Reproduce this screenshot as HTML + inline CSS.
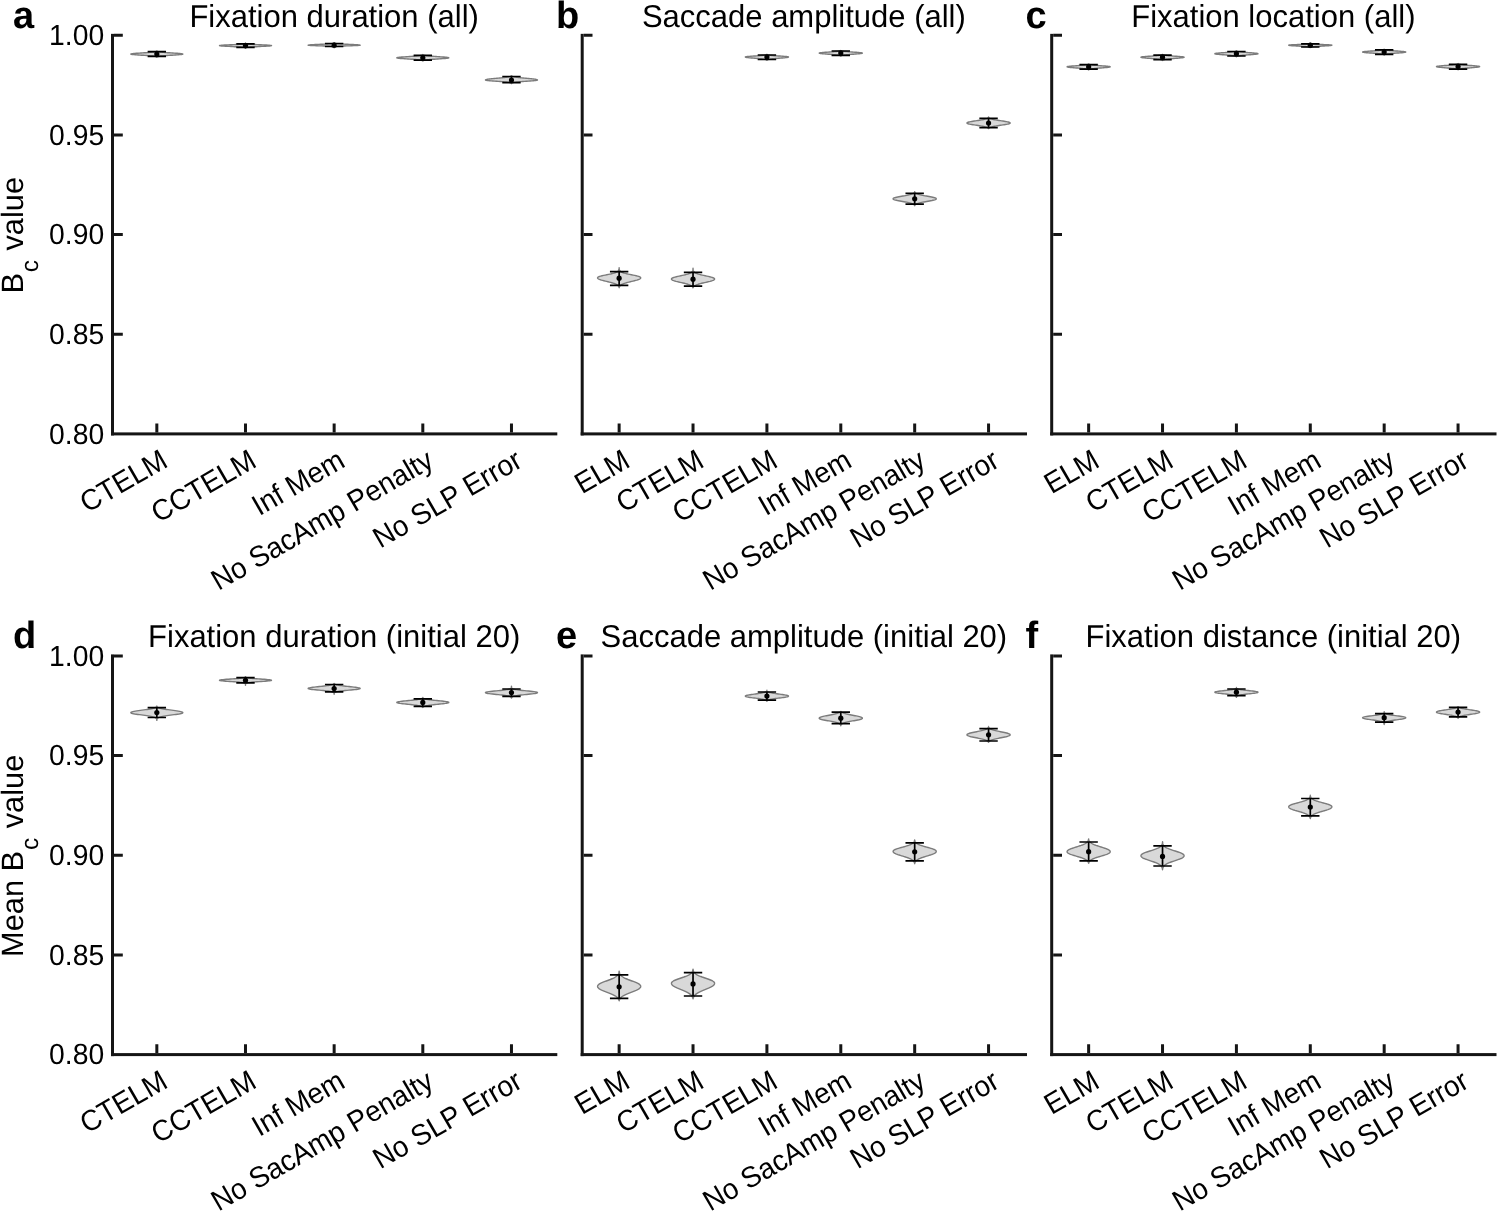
<!DOCTYPE html><html><head><meta charset="utf-8"><style>
html,body{margin:0;padding:0;background:#fff;overflow:hidden;}
svg{display:block;will-change:transform;text-rendering:geometricPrecision;} text{font-family:"Liberation Sans",sans-serif;fill:#000;}
</style></head><body>
<svg width="1497" height="1212" viewBox="0 0 1497 1212">
<rect width="1497" height="1212" fill="#fff"/>
<g><path d="M156.83,51.00 L156.93,51.10 L157.07,51.21 L157.24,51.31 L157.47,51.42 L157.76,51.52 L158.12,51.63 L158.57,51.73 L159.12,51.84 L159.77,51.95 L160.55,52.05 L161.45,52.16 L162.49,52.26 L163.65,52.37 L164.94,52.47 L166.35,52.58 L167.85,52.68 L169.43,52.78 L171.05,52.89 L172.69,52.99 L174.31,53.10 L175.88,53.20 L177.35,53.31 L178.70,53.41 L179.88,53.52 L180.88,53.62 L181.68,53.73 L182.26,53.84 L182.64,53.94 L182.81,54.05 L182.81,54.15 L182.64,54.25 L182.25,54.36 L181.62,54.46 L180.77,54.57 L179.70,54.67 L178.43,54.78 L176.99,54.88 L175.43,54.99 L173.77,55.09 L172.07,55.20 L170.37,55.30 L168.70,55.41 L167.09,55.52 L165.59,55.62 L164.20,55.72 L162.94,55.83 L161.82,55.93 L160.85,56.04 L160.01,56.14 L159.31,56.25 L158.73,56.35 L158.26,56.46 L157.88,56.56 L157.59,56.67 L157.36,56.77 L157.18,56.88 L157.05,56.98 L156.95,57.09 L156.88,57.19 L156.83,57.30 L156.83,57.30 L156.78,57.19 L156.71,57.09 L156.61,56.98 L156.48,56.88 L156.30,56.77 L156.07,56.67 L155.78,56.56 L155.40,56.46 L154.93,56.35 L154.35,56.25 L153.65,56.14 L152.81,56.04 L151.84,55.93 L150.72,55.83 L149.46,55.72 L148.07,55.62 L146.57,55.52 L144.96,55.41 L143.29,55.30 L141.59,55.20 L139.89,55.09 L138.23,54.99 L136.67,54.88 L135.23,54.78 L133.96,54.67 L132.89,54.57 L132.04,54.46 L131.41,54.36 L131.02,54.25 L130.85,54.15 L130.85,54.05 L131.02,53.94 L131.40,53.84 L131.98,53.73 L132.78,53.62 L133.78,53.52 L134.96,53.41 L136.31,53.31 L137.78,53.20 L139.35,53.10 L140.97,52.99 L142.61,52.89 L144.23,52.78 L145.81,52.68 L147.31,52.58 L148.72,52.47 L150.01,52.37 L151.17,52.26 L152.21,52.16 L153.11,52.05 L153.89,51.95 L154.54,51.84 L155.09,51.73 L155.54,51.63 L155.90,51.52 L156.19,51.42 L156.42,51.31 L156.59,51.21 L156.73,51.10 L156.83,51.00Z" fill="#d9d9d9" stroke="#7c7c7c" stroke-width="1.4" stroke-linejoin="round"/><path d="M156.83,51.70V56.40M147.63,51.70H166.03M147.63,56.40H166.03" stroke="#000" stroke-width="1.7" fill="none"/><circle cx="156.83" cy="54.10" r="2.6" fill="#000"/><path d="M245.49,42.90 L245.50,42.99 L245.52,43.08 L245.55,43.17 L245.59,43.26 L245.65,43.35 L245.75,43.44 L245.89,43.53 L246.08,43.62 L246.35,43.71 L246.71,43.80 L247.18,43.89 L247.79,43.98 L248.55,44.07 L249.49,44.16 L250.62,44.25 L251.93,44.34 L253.44,44.43 L255.12,44.52 L256.94,44.61 L258.86,44.70 L260.83,44.79 L262.79,44.88 L264.68,44.97 L266.43,45.06 L267.98,45.15 L269.28,45.24 L270.29,45.33 L270.99,45.42 L271.38,45.51 L271.49,45.60 L271.39,45.69 L271.05,45.78 L270.43,45.87 L269.53,45.96 L268.37,46.05 L266.97,46.14 L265.38,46.23 L263.64,46.32 L261.81,46.41 L259.94,46.50 L258.09,46.59 L256.31,46.68 L254.63,46.77 L253.08,46.86 L251.69,46.95 L250.47,47.04 L249.42,47.13 L248.54,47.22 L247.81,47.31 L247.22,47.40 L246.76,47.49 L246.40,47.58 L246.13,47.67 L245.93,47.76 L245.78,47.85 L245.67,47.94 L245.60,48.03 L245.55,48.12 L245.51,48.21 L245.49,48.30 L245.49,48.30 L245.47,48.21 L245.43,48.12 L245.38,48.03 L245.31,47.94 L245.20,47.85 L245.05,47.76 L244.85,47.67 L244.58,47.58 L244.22,47.49 L243.76,47.40 L243.17,47.31 L242.44,47.22 L241.56,47.13 L240.51,47.04 L239.29,46.95 L237.90,46.86 L236.35,46.77 L234.67,46.68 L232.89,46.59 L231.04,46.50 L229.17,46.41 L227.34,46.32 L225.60,46.23 L224.01,46.14 L222.61,46.05 L221.45,45.96 L220.55,45.87 L219.93,45.78 L219.59,45.69 L219.49,45.60 L219.60,45.51 L219.99,45.42 L220.69,45.33 L221.70,45.24 L223.00,45.15 L224.55,45.06 L226.30,44.97 L228.19,44.88 L230.15,44.79 L232.12,44.70 L234.04,44.61 L235.86,44.52 L237.54,44.43 L239.05,44.34 L240.36,44.25 L241.49,44.16 L242.43,44.07 L243.19,43.98 L243.80,43.89 L244.27,43.80 L244.63,43.71 L244.90,43.62 L245.09,43.53 L245.23,43.44 L245.33,43.35 L245.39,43.26 L245.43,43.17 L245.46,43.08 L245.48,42.99 L245.49,42.90Z" fill="#d9d9d9" stroke="#7c7c7c" stroke-width="1.4" stroke-linejoin="round"/><path d="M245.49,43.90V47.40M236.29,43.90H254.69M236.29,47.40H254.69" stroke="#000" stroke-width="1.7" fill="none"/><circle cx="245.49" cy="45.60" r="2.6" fill="#000"/><path d="M334.15,42.60 L334.17,42.69 L334.19,42.77 L334.24,42.86 L334.29,42.94 L334.38,43.02 L334.50,43.11 L334.67,43.20 L334.90,43.28 L335.20,43.37 L335.60,43.45 L336.12,43.54 L336.76,43.62 L337.55,43.70 L338.50,43.79 L339.62,43.88 L340.91,43.96 L342.36,44.05 L343.97,44.13 L345.70,44.22 L347.51,44.30 L349.38,44.39 L351.23,44.47 L353.03,44.55 L354.72,44.64 L356.23,44.73 L357.54,44.81 L358.59,44.90 L359.38,44.98 L359.88,45.07 L360.12,45.15 L360.12,45.23 L359.78,45.32 L358.97,45.41 L357.69,45.49 L355.98,45.58 L353.92,45.66 L351.61,45.75 L349.19,45.83 L346.77,45.91 L344.45,46.00 L342.33,46.09 L340.47,46.17 L338.89,46.26 L337.61,46.34 L336.60,46.43 L335.83,46.51 L335.27,46.60 L334.87,46.68 L334.60,46.77 L334.42,46.85 L334.31,46.94 L334.24,47.02 L334.20,47.11 L334.18,47.19 L334.16,47.28 L334.16,47.36 L334.15,47.45 L334.15,47.53 L334.15,47.62 L334.15,47.70 L334.15,47.70 L334.15,47.62 L334.15,47.53 L334.15,47.45 L334.14,47.36 L334.14,47.28 L334.12,47.19 L334.10,47.11 L334.06,47.02 L333.99,46.94 L333.88,46.85 L333.70,46.77 L333.43,46.68 L333.03,46.60 L332.47,46.51 L331.70,46.43 L330.69,46.34 L329.41,46.26 L327.83,46.17 L325.97,46.09 L323.85,46.00 L321.53,45.91 L319.11,45.83 L316.69,45.75 L314.38,45.66 L312.32,45.58 L310.61,45.49 L309.33,45.41 L308.52,45.32 L308.18,45.23 L308.18,45.15 L308.42,45.07 L308.92,44.98 L309.71,44.90 L310.76,44.81 L312.07,44.73 L313.58,44.64 L315.27,44.55 L317.07,44.47 L318.92,44.39 L320.79,44.30 L322.60,44.22 L324.33,44.13 L325.94,44.05 L327.39,43.96 L328.68,43.88 L329.80,43.79 L330.75,43.70 L331.54,43.62 L332.18,43.54 L332.70,43.45 L333.10,43.37 L333.40,43.28 L333.63,43.20 L333.80,43.11 L333.92,43.02 L334.01,42.94 L334.06,42.86 L334.11,42.77 L334.13,42.69 L334.15,42.60Z" fill="#d9d9d9" stroke="#7c7c7c" stroke-width="1.4" stroke-linejoin="round"/><path d="M334.15,43.50V46.50M324.95,43.50H343.35M324.95,46.50H343.35" stroke="#000" stroke-width="1.7" fill="none"/><circle cx="334.15" cy="45.20" r="2.6" fill="#000"/><path d="M422.81,54.60 L422.89,54.71 L422.99,54.81 L423.13,54.92 L423.31,55.03 L423.55,55.13 L423.85,55.24 L424.22,55.35 L424.69,55.45 L425.27,55.56 L425.95,55.67 L426.77,55.77 L427.71,55.88 L428.79,55.99 L430.01,56.09 L431.35,56.20 L432.80,56.31 L434.35,56.41 L435.97,56.52 L437.63,56.63 L439.29,56.73 L440.92,56.84 L442.48,56.95 L443.92,57.05 L445.22,57.16 L446.34,57.27 L447.27,57.37 L447.97,57.48 L448.46,57.59 L448.73,57.69 L448.81,57.80 L448.73,57.91 L448.46,58.01 L447.97,58.12 L447.27,58.23 L446.34,58.33 L445.22,58.44 L443.92,58.55 L442.48,58.65 L440.92,58.76 L439.29,58.87 L437.63,58.97 L435.97,59.08 L434.35,59.19 L432.80,59.29 L431.35,59.40 L430.01,59.51 L428.79,59.61 L427.71,59.72 L426.77,59.83 L425.95,59.93 L425.27,60.04 L424.69,60.15 L424.22,60.25 L423.85,60.36 L423.55,60.47 L423.31,60.57 L423.13,60.68 L422.99,60.79 L422.89,60.89 L422.81,61.00 L422.81,61.00 L422.73,60.89 L422.63,60.79 L422.49,60.68 L422.31,60.57 L422.07,60.47 L421.77,60.36 L421.40,60.25 L420.93,60.15 L420.35,60.04 L419.67,59.93 L418.85,59.83 L417.91,59.72 L416.83,59.61 L415.61,59.51 L414.27,59.40 L412.82,59.29 L411.27,59.19 L409.65,59.08 L407.99,58.97 L406.33,58.87 L404.70,58.76 L403.14,58.65 L401.70,58.55 L400.40,58.44 L399.28,58.33 L398.35,58.23 L397.65,58.12 L397.16,58.01 L396.89,57.91 L396.81,57.80 L396.89,57.69 L397.16,57.59 L397.65,57.48 L398.35,57.37 L399.28,57.27 L400.40,57.16 L401.70,57.05 L403.14,56.95 L404.70,56.84 L406.33,56.73 L407.99,56.63 L409.65,56.52 L411.27,56.41 L412.82,56.31 L414.27,56.20 L415.61,56.09 L416.83,55.99 L417.91,55.88 L418.85,55.77 L419.67,55.67 L420.35,55.56 L420.93,55.45 L421.40,55.35 L421.77,55.24 L422.07,55.13 L422.31,55.03 L422.49,54.92 L422.63,54.81 L422.73,54.71 L422.81,54.60Z" fill="#d9d9d9" stroke="#7c7c7c" stroke-width="1.4" stroke-linejoin="round"/><path d="M422.81,55.40V60.20M413.61,55.40H432.01M413.61,60.20H432.01" stroke="#000" stroke-width="1.7" fill="none"/><circle cx="422.81" cy="57.80" r="2.6" fill="#000"/><path d="M511.47,75.80 L511.63,75.93 L511.82,76.06 L512.06,76.19 L512.35,76.32 L512.69,76.45 L513.10,76.58 L513.58,76.71 L514.14,76.84 L514.79,76.97 L515.53,77.10 L516.36,77.23 L517.29,77.36 L518.30,77.49 L519.41,77.62 L520.60,77.75 L521.87,77.88 L523.19,78.01 L524.56,78.14 L525.96,78.27 L527.36,78.40 L528.74,78.53 L530.09,78.66 L531.38,78.79 L532.58,78.92 L533.68,79.05 L534.65,79.18 L535.50,79.31 L536.19,79.44 L536.73,79.57 L537.12,79.70 L537.36,79.83 L537.46,79.96 L537.42,80.09 L537.16,80.22 L536.62,80.35 L535.81,80.48 L534.72,80.61 L533.39,80.74 L531.85,80.87 L530.15,81.00 L528.34,81.13 L526.47,81.26 L524.61,81.39 L522.80,81.52 L521.08,81.65 L519.48,81.78 L518.04,81.91 L516.77,82.04 L515.66,82.17 L514.73,82.30 L513.95,82.43 L513.32,82.56 L512.82,82.69 L512.43,82.82 L512.13,82.95 L511.90,83.08 L511.74,83.21 L511.62,83.34 L511.53,83.47 L511.47,83.60 L511.47,83.60 L511.41,83.47 L511.32,83.34 L511.20,83.21 L511.04,83.08 L510.81,82.95 L510.51,82.82 L510.12,82.69 L509.62,82.56 L508.99,82.43 L508.21,82.30 L507.28,82.17 L506.17,82.04 L504.90,81.91 L503.46,81.78 L501.86,81.65 L500.14,81.52 L498.33,81.39 L496.47,81.26 L494.60,81.13 L492.79,81.00 L491.09,80.87 L489.55,80.74 L488.22,80.61 L487.13,80.48 L486.32,80.35 L485.78,80.22 L485.52,80.09 L485.48,79.96 L485.58,79.83 L485.82,79.70 L486.21,79.57 L486.75,79.44 L487.44,79.31 L488.29,79.18 L489.26,79.05 L490.36,78.92 L491.56,78.79 L492.85,78.66 L494.20,78.53 L495.58,78.40 L496.98,78.27 L498.38,78.14 L499.75,78.01 L501.07,77.88 L502.34,77.75 L503.53,77.62 L504.64,77.49 L505.65,77.36 L506.58,77.23 L507.41,77.10 L508.15,76.97 L508.80,76.84 L509.36,76.71 L509.84,76.58 L510.25,76.45 L510.59,76.32 L510.88,76.19 L511.12,76.06 L511.31,75.93 L511.47,75.80Z" fill="#d9d9d9" stroke="#7c7c7c" stroke-width="1.4" stroke-linejoin="round"/><path d="M511.47,76.50V82.60M502.27,76.50H520.67M502.27,82.60H520.67" stroke="#000" stroke-width="1.7" fill="none"/><circle cx="511.47" cy="80.00" r="2.6" fill="#000"/><path d="M114.00,35.35H122.80M114.00,134.99H122.80M114.00,234.62H122.80M114.00,334.26H122.80M156.83,432.40V423.50M245.49,432.40V423.50M334.15,432.40V423.50M422.81,432.40V423.50M511.47,432.40V423.50" stroke="#151515" stroke-width="3" fill="none"/><rect x="111.00" y="33.85" width="3" height="401.55" fill="#151515"/><rect x="111.00" y="432.40" width="446.30" height="3" fill="#151515"/><text transform="translate(104.20,45.15) scale(1,1.03)" font-size="28.3" text-anchor="end">1.00</text><text transform="translate(104.20,144.79) scale(1,1.03)" font-size="28.3" text-anchor="end">0.95</text><text transform="translate(104.20,244.42) scale(1,1.03)" font-size="28.3" text-anchor="end">0.90</text><text transform="translate(104.20,344.06) scale(1,1.03)" font-size="28.3" text-anchor="end">0.85</text><text transform="translate(104.20,443.70) scale(1,1.03)" font-size="28.3" text-anchor="end">0.80</text><text x="0" y="0" font-size="28.0" text-anchor="end" transform="translate(169.43,465.80) rotate(-30) scale(1,1.045)">CTELM</text><text x="0" y="0" font-size="28.0" text-anchor="end" transform="translate(258.09,465.80) rotate(-30) scale(1,1.045)">CCTELM</text><text x="0" y="0" font-size="28.0" text-anchor="end" transform="translate(346.75,465.80) rotate(-30) scale(1,1.045)">Inf Mem</text><text x="0" y="0" font-size="28.0" text-anchor="end" transform="translate(435.41,465.80) rotate(-30) scale(1,1.045)">No SacAmp Penalty</text><text x="0" y="0" font-size="28.0" text-anchor="end" transform="translate(524.07,465.80) rotate(-30) scale(1,1.045)">No SLP Error</text><text transform="translate(334.15,26.70) scale(1,1.02)" font-size="31.0" text-anchor="middle">Fixation duration (all)</text><text x="13.00" y="27.65" font-size="38.0" font-weight="bold">a</text></g>
<g><path d="M619.14,267.80 L619.15,268.13 L619.16,268.46 L619.18,268.80 L619.21,269.13 L619.26,269.46 L619.32,269.79 L619.42,270.12 L619.57,270.45 L619.76,270.79 L620.03,271.12 L620.39,271.45 L620.86,271.78 L621.46,272.11 L622.20,272.44 L623.09,272.77 L624.15,273.11 L625.36,273.44 L626.73,273.77 L628.22,274.10 L629.82,274.43 L631.46,274.76 L633.11,275.10 L634.72,275.43 L636.21,275.76 L637.55,276.09 L638.69,276.42 L639.58,276.75 L640.21,277.09 L640.58,277.42 L640.71,277.75 L640.66,278.08 L640.46,278.41 L640.09,278.75 L639.54,279.08 L638.81,279.41 L637.91,279.74 L636.86,280.07 L635.69,280.40 L634.42,280.74 L633.08,281.07 L631.71,281.40 L630.34,281.73 L628.99,282.06 L627.70,282.39 L626.48,282.73 L625.35,283.06 L624.32,283.39 L623.40,283.72 L622.59,284.05 L621.90,284.38 L621.30,284.71 L620.81,285.05 L620.40,285.38 L620.06,285.71 L619.80,286.04 L619.59,286.37 L619.43,286.70 L619.31,287.04 L619.21,287.37 L619.14,287.70 L619.14,287.70 L619.07,287.37 L618.98,287.04 L618.85,286.70 L618.69,286.37 L618.48,286.04 L618.22,285.71 L617.89,285.38 L617.48,285.05 L616.98,284.71 L616.39,284.38 L615.69,284.05 L614.88,283.72 L613.96,283.39 L612.93,283.06 L611.80,282.73 L610.58,282.39 L609.29,282.06 L607.94,281.73 L606.57,281.40 L605.20,281.07 L603.87,280.74 L602.60,280.40 L601.42,280.07 L600.38,279.74 L599.48,279.41 L598.75,279.08 L598.19,278.75 L597.82,278.41 L597.62,278.08 L597.58,277.75 L597.70,277.42 L598.07,277.09 L598.70,276.75 L599.60,276.42 L600.73,276.09 L602.07,275.76 L603.57,275.43 L605.17,275.10 L606.82,274.76 L608.47,274.43 L610.06,274.10 L611.55,273.77 L612.92,273.44 L614.14,273.11 L615.19,272.77 L616.09,272.44 L616.83,272.11 L617.42,271.78 L617.89,271.45 L618.25,271.12 L618.52,270.79 L618.72,270.45 L618.86,270.12 L618.96,269.79 L619.03,269.46 L619.07,269.13 L619.10,268.80 L619.12,268.46 L619.13,268.13 L619.14,267.80Z" fill="#d9d9d9" stroke="#7c7c7c" stroke-width="1.4" stroke-linejoin="round"/><path d="M619.14,271.60V285.30M609.94,271.60H628.34M609.94,285.30H628.34" stroke="#000" stroke-width="1.7" fill="none"/><circle cx="619.14" cy="278.20" r="2.6" fill="#000"/><path d="M693.03,268.20 L693.03,268.53 L693.04,268.86 L693.05,269.19 L693.07,269.51 L693.10,269.84 L693.15,270.17 L693.21,270.50 L693.31,270.83 L693.44,271.15 L693.62,271.48 L693.86,271.81 L694.17,272.14 L694.57,272.47 L695.08,272.80 L695.70,273.12 L696.45,273.45 L697.35,273.78 L698.38,274.11 L699.55,274.44 L700.85,274.77 L702.25,275.09 L703.73,275.42 L705.26,275.75 L706.80,276.08 L708.30,276.41 L709.72,276.74 L711.02,277.06 L712.14,277.39 L713.08,277.72 L713.79,278.05 L714.27,278.38 L714.53,278.71 L714.59,279.03 L714.50,279.36 L714.23,279.69 L713.76,280.02 L713.10,280.35 L712.25,280.68 L711.22,281.00 L710.04,281.33 L708.75,281.66 L707.37,281.99 L705.94,282.32 L704.50,282.65 L703.08,282.97 L701.71,283.30 L700.42,283.63 L699.23,283.96 L698.14,284.29 L697.18,284.62 L696.34,284.94 L695.62,285.27 L695.01,285.60 L694.50,285.93 L694.09,286.26 L693.76,286.59 L693.50,286.91 L693.30,287.24 L693.14,287.57 L693.03,287.90 L693.03,287.90 L692.91,287.57 L692.75,287.24 L692.55,286.91 L692.29,286.59 L691.96,286.26 L691.55,285.93 L691.04,285.60 L690.43,285.27 L689.71,284.94 L688.87,284.62 L687.91,284.29 L686.82,283.96 L685.63,283.63 L684.34,283.30 L682.97,282.97 L681.55,282.65 L680.11,282.32 L678.68,281.99 L677.30,281.66 L676.01,281.33 L674.83,281.00 L673.80,280.68 L672.95,280.35 L672.29,280.02 L671.82,279.69 L671.55,279.36 L671.46,279.03 L671.52,278.71 L671.78,278.38 L672.26,278.05 L672.97,277.72 L673.91,277.39 L675.03,277.06 L676.33,276.74 L677.75,276.41 L679.25,276.08 L680.79,275.75 L682.32,275.42 L683.80,275.09 L685.20,274.77 L686.50,274.44 L687.67,274.11 L688.70,273.78 L689.60,273.45 L690.35,273.12 L690.97,272.80 L691.48,272.47 L691.88,272.14 L692.19,271.81 L692.43,271.48 L692.61,271.15 L692.74,270.83 L692.84,270.50 L692.90,270.17 L692.95,269.84 L692.98,269.51 L693.00,269.19 L693.01,268.86 L693.02,268.53 L693.03,268.20Z" fill="#d9d9d9" stroke="#7c7c7c" stroke-width="1.4" stroke-linejoin="round"/><path d="M693.03,272.40V286.10M683.83,272.40H702.23M683.83,286.10H702.23" stroke="#000" stroke-width="1.7" fill="none"/><circle cx="693.03" cy="279.20" r="2.6" fill="#000"/><path d="M766.91,54.30 L766.97,54.40 L767.06,54.50 L767.18,54.59 L767.35,54.69 L767.57,54.79 L767.86,54.89 L768.23,54.99 L768.70,55.09 L769.28,55.18 L769.98,55.28 L770.82,55.38 L771.79,55.48 L772.90,55.58 L774.13,55.68 L775.48,55.77 L776.92,55.87 L778.43,55.97 L779.95,56.07 L781.46,56.17 L782.91,56.27 L784.26,56.37 L785.46,56.46 L786.49,56.56 L787.31,56.66 L787.91,56.76 L788.29,56.86 L788.46,56.95 L788.46,57.05 L788.34,57.15 L788.09,57.25 L787.70,57.35 L787.17,57.45 L786.50,57.55 L785.69,57.64 L784.77,57.74 L783.74,57.84 L782.63,57.94 L781.46,58.04 L780.26,58.13 L779.03,58.23 L777.81,58.33 L776.62,58.43 L775.47,58.53 L774.38,58.63 L773.35,58.73 L772.41,58.82 L771.55,58.92 L770.77,59.02 L770.09,59.12 L769.49,59.22 L768.98,59.32 L768.53,59.41 L768.16,59.51 L767.85,59.61 L767.60,59.71 L767.39,59.81 L767.23,59.91 L767.09,60.00 L766.99,60.10 L766.91,60.20 L766.91,60.20 L766.83,60.10 L766.72,60.00 L766.59,59.91 L766.42,59.81 L766.22,59.71 L765.96,59.61 L765.65,59.51 L765.28,59.41 L764.84,59.32 L764.32,59.22 L763.73,59.12 L763.04,59.02 L762.27,58.92 L761.41,58.82 L760.47,58.73 L759.44,58.63 L758.35,58.53 L757.20,58.43 L756.00,58.33 L754.78,58.23 L753.56,58.13 L752.35,58.04 L751.18,57.94 L750.08,57.84 L749.05,57.74 L748.13,57.64 L747.32,57.55 L746.65,57.45 L746.11,57.35 L745.72,57.25 L745.47,57.15 L745.36,57.05 L745.36,56.95 L745.52,56.86 L745.90,56.76 L746.50,56.66 L747.33,56.56 L748.35,56.46 L749.56,56.37 L750.91,56.27 L752.36,56.17 L753.87,56.07 L755.39,55.97 L756.89,55.87 L758.33,55.77 L759.68,55.68 L760.92,55.58 L762.03,55.48 L763.00,55.38 L763.84,55.28 L764.54,55.18 L765.12,55.09 L765.59,54.99 L765.96,54.89 L766.25,54.79 L766.47,54.69 L766.63,54.59 L766.76,54.50 L766.84,54.40 L766.91,54.30Z" fill="#d9d9d9" stroke="#7c7c7c" stroke-width="1.4" stroke-linejoin="round"/><path d="M766.91,55.00V59.50M757.71,55.00H776.11M757.71,59.50H776.11" stroke="#000" stroke-width="1.7" fill="none"/><circle cx="766.91" cy="57.00" r="2.6" fill="#000"/><path d="M840.79,50.40 L840.88,50.49 L841.01,50.59 L841.17,50.69 L841.37,50.78 L841.64,50.88 L841.97,50.97 L842.39,51.06 L842.89,51.16 L843.50,51.25 L844.21,51.35 L845.04,51.45 L845.99,51.54 L847.05,51.63 L848.22,51.73 L849.48,51.83 L850.81,51.92 L852.20,52.02 L853.60,52.11 L855.00,52.20 L856.36,52.30 L857.63,52.39 L858.80,52.49 L859.84,52.59 L860.71,52.68 L861.40,52.77 L861.90,52.87 L862.21,52.97 L862.34,53.06 L862.34,53.16 L862.21,53.25 L861.93,53.34 L861.49,53.44 L860.89,53.53 L860.14,53.63 L859.26,53.73 L858.24,53.82 L857.13,53.91 L855.93,54.01 L854.68,54.11 L853.40,54.20 L852.12,54.30 L850.86,54.39 L849.63,54.48 L848.47,54.58 L847.39,54.67 L846.39,54.77 L845.48,54.87 L844.67,54.96 L843.96,55.05 L843.34,55.15 L842.81,55.25 L842.36,55.34 L841.99,55.44 L841.68,55.53 L841.44,55.62 L841.24,55.72 L841.08,55.81 L840.96,55.91 L840.86,56.01 L840.79,56.10 L840.79,56.10 L840.72,56.01 L840.62,55.91 L840.50,55.81 L840.35,55.72 L840.15,55.62 L839.90,55.53 L839.59,55.44 L839.22,55.34 L838.77,55.25 L838.24,55.15 L837.63,55.05 L836.91,54.96 L836.10,54.87 L835.20,54.77 L834.20,54.67 L833.11,54.58 L831.95,54.48 L830.73,54.39 L829.46,54.30 L828.18,54.20 L826.90,54.11 L825.65,54.01 L824.46,53.91 L823.34,53.82 L822.33,53.73 L821.44,53.63 L820.69,53.53 L820.10,53.44 L819.66,53.34 L819.38,53.25 L819.25,53.16 L819.24,53.06 L819.37,52.97 L819.69,52.87 L820.19,52.77 L820.88,52.68 L821.75,52.59 L822.78,52.49 L823.95,52.39 L825.23,52.30 L826.58,52.20 L827.98,52.11 L829.39,52.02 L830.77,51.92 L832.11,51.83 L833.37,51.73 L834.53,51.63 L835.59,51.54 L836.54,51.45 L837.37,51.35 L838.08,51.25 L838.69,51.16 L839.20,51.06 L839.61,50.97 L839.94,50.88 L840.21,50.78 L840.42,50.69 L840.58,50.59 L840.70,50.49 L840.79,50.40Z" fill="#d9d9d9" stroke="#7c7c7c" stroke-width="1.4" stroke-linejoin="round"/><path d="M840.79,51.00V55.40M831.59,51.00H849.99M831.59,55.40H849.99" stroke="#000" stroke-width="1.7" fill="none"/><circle cx="840.79" cy="53.10" r="2.6" fill="#000"/><path d="M914.68,191.60 L914.74,191.84 L914.82,192.07 L914.93,192.31 L915.08,192.54 L915.26,192.78 L915.50,193.01 L915.80,193.25 L916.17,193.48 L916.62,193.72 L917.16,193.95 L917.79,194.19 L918.53,194.42 L919.38,194.66 L920.34,194.89 L921.40,195.12 L922.55,195.36 L923.79,195.59 L925.08,195.83 L926.42,196.06 L927.77,196.30 L929.11,196.53 L930.41,196.77 L931.63,197.00 L932.74,197.24 L933.73,197.47 L934.57,197.71 L935.24,197.94 L935.74,198.18 L936.06,198.41 L936.22,198.65 L936.23,198.88 L936.11,199.12 L935.84,199.35 L935.39,199.59 L934.76,199.82 L933.96,200.06 L933.01,200.29 L931.92,200.53 L930.73,200.76 L929.45,201.00 L928.12,201.23 L926.76,201.47 L925.42,201.70 L924.10,201.94 L922.85,202.17 L921.67,202.41 L920.58,202.64 L919.59,202.88 L918.71,203.11 L917.93,203.35 L917.26,203.58 L916.70,203.82 L916.22,204.05 L915.83,204.29 L915.51,204.52 L915.25,204.76 L915.05,204.99 L914.89,205.23 L914.77,205.46 L914.68,205.70 L914.68,205.70 L914.58,205.46 L914.46,205.23 L914.30,204.99 L914.10,204.76 L913.84,204.52 L913.52,204.29 L913.13,204.05 L912.65,203.82 L912.09,203.58 L911.42,203.35 L910.64,203.11 L909.76,202.88 L908.77,202.64 L907.68,202.41 L906.50,202.17 L905.25,201.94 L903.93,201.70 L902.59,201.47 L901.23,201.23 L899.90,201.00 L898.62,200.76 L897.43,200.53 L896.34,200.29 L895.39,200.06 L894.59,199.82 L893.96,199.59 L893.51,199.35 L893.24,199.12 L893.12,198.88 L893.13,198.65 L893.29,198.41 L893.61,198.18 L894.11,197.94 L894.78,197.71 L895.62,197.47 L896.61,197.24 L897.72,197.00 L898.94,196.77 L900.24,196.53 L901.58,196.30 L902.93,196.06 L904.27,195.83 L905.56,195.59 L906.80,195.36 L907.95,195.12 L909.01,194.89 L909.97,194.66 L910.82,194.42 L911.56,194.19 L912.19,193.95 L912.73,193.72 L913.18,193.48 L913.55,193.25 L913.85,193.01 L914.09,192.78 L914.27,192.54 L914.42,192.31 L914.53,192.07 L914.61,191.84 L914.68,191.60Z" fill="#d9d9d9" stroke="#7c7c7c" stroke-width="1.4" stroke-linejoin="round"/><path d="M914.68,193.40V204.20M905.48,193.40H923.88M905.48,204.20H923.88" stroke="#000" stroke-width="1.7" fill="none"/><circle cx="914.68" cy="198.80" r="2.6" fill="#000"/><path d="M988.56,117.00 L988.63,117.19 L988.73,117.39 L988.86,117.58 L989.02,117.77 L989.22,117.97 L989.48,118.16 L989.80,118.35 L990.19,118.55 L990.65,118.74 L991.21,118.93 L991.85,119.13 L992.60,119.32 L993.45,119.51 L994.39,119.71 L995.43,119.90 L996.56,120.09 L997.76,120.29 L999.02,120.48 L1000.31,120.67 L1001.62,120.87 L1002.91,121.06 L1004.17,121.25 L1005.36,121.45 L1006.45,121.64 L1007.43,121.83 L1008.27,122.03 L1008.96,122.22 L1009.49,122.41 L1009.85,122.61 L1010.06,122.80 L1010.12,122.99 L1010.06,123.19 L1009.86,123.38 L1009.50,123.57 L1008.98,123.77 L1008.29,123.96 L1007.45,124.15 L1006.48,124.35 L1005.39,124.54 L1004.20,124.73 L1002.94,124.93 L1001.64,125.12 L1000.33,125.31 L999.03,125.51 L997.76,125.70 L996.55,125.89 L995.41,126.09 L994.36,126.28 L993.40,126.47 L992.54,126.67 L991.78,126.86 L991.12,127.05 L990.55,127.25 L990.07,127.44 L989.67,127.63 L989.35,127.83 L989.08,128.02 L988.86,128.21 L988.69,128.41 L988.56,128.60 L988.56,128.60 L988.42,128.41 L988.25,128.21 L988.04,128.02 L987.77,127.83 L987.44,127.63 L987.04,127.44 L986.56,127.25 L986.00,127.05 L985.34,126.86 L984.58,126.67 L983.72,126.47 L982.76,126.28 L981.71,126.09 L980.57,125.89 L979.36,125.70 L978.09,125.51 L976.79,125.31 L975.48,125.12 L974.18,124.93 L972.92,124.73 L971.73,124.54 L970.64,124.35 L969.66,124.15 L968.82,123.96 L968.14,123.77 L967.61,123.57 L967.26,123.38 L967.05,123.19 L966.99,122.99 L967.06,122.80 L967.26,122.61 L967.63,122.41 L968.16,122.22 L968.85,122.03 L969.69,121.83 L970.67,121.64 L971.76,121.45 L972.95,121.25 L974.20,121.06 L975.50,120.87 L976.81,120.67 L978.10,120.48 L979.36,120.29 L980.56,120.09 L981.68,119.90 L982.72,119.71 L983.67,119.51 L984.52,119.32 L985.26,119.13 L985.91,118.93 L986.46,118.74 L986.93,118.55 L987.32,118.35 L987.64,118.16 L987.89,117.97 L988.10,117.77 L988.26,117.58 L988.39,117.39 L988.48,117.19 L988.56,117.00Z" fill="#d9d9d9" stroke="#7c7c7c" stroke-width="1.4" stroke-linejoin="round"/><path d="M988.56,118.40V127.60M979.36,118.40H997.76M979.36,127.60H997.76" stroke="#000" stroke-width="1.7" fill="none"/><circle cx="988.56" cy="123.00" r="2.6" fill="#000"/><path d="M583.70,35.35H592.50M583.70,134.99H592.50M583.70,234.62H592.50M583.70,334.26H592.50M619.14,432.40V423.50M693.03,432.40V423.50M766.91,432.40V423.50M840.79,432.40V423.50M914.68,432.40V423.50M988.56,432.40V423.50" stroke="#151515" stroke-width="3" fill="none"/><rect x="580.70" y="33.85" width="3" height="401.55" fill="#151515"/><rect x="580.70" y="432.40" width="446.30" height="3" fill="#151515"/><text x="0" y="0" font-size="28.0" text-anchor="end" transform="translate(631.74,465.80) rotate(-30) scale(1,1.045)">ELM</text><text x="0" y="0" font-size="28.0" text-anchor="end" transform="translate(705.63,465.80) rotate(-30) scale(1,1.045)">CTELM</text><text x="0" y="0" font-size="28.0" text-anchor="end" transform="translate(779.51,465.80) rotate(-30) scale(1,1.045)">CCTELM</text><text x="0" y="0" font-size="28.0" text-anchor="end" transform="translate(853.39,465.80) rotate(-30) scale(1,1.045)">Inf Mem</text><text x="0" y="0" font-size="28.0" text-anchor="end" transform="translate(927.28,465.80) rotate(-30) scale(1,1.045)">No SacAmp Penalty</text><text x="0" y="0" font-size="28.0" text-anchor="end" transform="translate(1001.16,465.80) rotate(-30) scale(1,1.045)">No SLP Error</text><text transform="translate(803.85,26.70) scale(1,1.02)" font-size="31.0" text-anchor="middle">Saccade amplitude (all)</text><text x="556.00" y="27.65" font-size="38.0" font-weight="bold">b</text></g>
<g><path d="M1088.64,63.90 L1088.72,64.00 L1088.82,64.10 L1088.95,64.20 L1089.13,64.31 L1089.36,64.41 L1089.66,64.51 L1090.03,64.61 L1090.49,64.71 L1091.05,64.81 L1091.72,64.92 L1092.51,65.02 L1093.42,65.12 L1094.45,65.22 L1095.60,65.32 L1096.84,65.42 L1098.18,65.53 L1099.58,65.63 L1101.01,65.73 L1102.44,65.83 L1103.84,65.93 L1105.17,66.03 L1106.39,66.14 L1107.48,66.24 L1108.40,66.34 L1109.14,66.44 L1109.68,66.54 L1110.03,66.64 L1110.19,66.75 L1110.19,66.85 L1110.07,66.95 L1109.79,67.05 L1109.35,67.15 L1108.74,67.25 L1107.97,67.36 L1107.06,67.46 L1106.01,67.56 L1104.86,67.66 L1103.62,67.76 L1102.34,67.86 L1101.02,67.97 L1099.71,68.07 L1098.42,68.17 L1097.19,68.27 L1096.02,68.37 L1094.93,68.47 L1093.94,68.58 L1093.04,68.68 L1092.25,68.78 L1091.56,68.88 L1090.97,68.98 L1090.47,69.08 L1090.05,69.19 L1089.70,69.29 L1089.42,69.39 L1089.20,69.49 L1089.03,69.59 L1088.89,69.69 L1088.78,69.80 L1088.70,69.90 L1088.64,70.00 L1088.64,70.00 L1088.58,69.90 L1088.50,69.80 L1088.40,69.69 L1088.26,69.59 L1088.08,69.49 L1087.86,69.39 L1087.58,69.29 L1087.24,69.19 L1086.82,69.08 L1086.31,68.98 L1085.72,68.88 L1085.03,68.78 L1084.24,68.68 L1083.35,68.58 L1082.35,68.47 L1081.27,68.37 L1080.10,68.27 L1078.86,68.17 L1077.57,68.07 L1076.26,67.97 L1074.95,67.86 L1073.66,67.76 L1072.43,67.66 L1071.27,67.56 L1070.23,67.46 L1069.31,67.36 L1068.54,67.25 L1067.93,67.15 L1067.49,67.05 L1067.21,66.95 L1067.09,66.85 L1067.10,66.75 L1067.25,66.64 L1067.60,66.54 L1068.14,66.44 L1068.88,66.34 L1069.80,66.24 L1070.89,66.14 L1072.12,66.03 L1073.44,65.93 L1074.84,65.83 L1076.28,65.73 L1077.71,65.63 L1079.10,65.53 L1080.44,65.42 L1081.69,65.32 L1082.83,65.22 L1083.86,65.12 L1084.77,65.02 L1085.56,64.92 L1086.23,64.81 L1086.79,64.71 L1087.25,64.61 L1087.62,64.51 L1087.92,64.41 L1088.15,64.31 L1088.33,64.20 L1088.47,64.10 L1088.57,64.00 L1088.64,63.90Z" fill="#d9d9d9" stroke="#7c7c7c" stroke-width="1.4" stroke-linejoin="round"/><path d="M1088.64,64.60V69.20M1079.44,64.60H1097.84M1079.44,69.20H1097.84" stroke="#000" stroke-width="1.7" fill="none"/><circle cx="1088.64" cy="66.80" r="2.6" fill="#000"/><path d="M1162.53,54.40 L1162.59,54.50 L1162.69,54.60 L1162.82,54.70 L1162.99,54.80 L1163.22,54.90 L1163.51,55.00 L1163.88,55.10 L1164.35,55.20 L1164.92,55.30 L1165.60,55.40 L1166.41,55.50 L1167.35,55.60 L1168.42,55.70 L1169.61,55.80 L1170.90,55.90 L1172.29,56.00 L1173.74,56.10 L1175.21,56.20 L1176.68,56.30 L1178.11,56.40 L1179.45,56.50 L1180.67,56.60 L1181.73,56.70 L1182.61,56.80 L1183.29,56.90 L1183.75,57.00 L1184.01,57.10 L1184.09,57.20 L1184.03,57.30 L1183.85,57.40 L1183.53,57.50 L1183.06,57.60 L1182.44,57.70 L1181.68,57.80 L1180.79,57.90 L1179.79,58.00 L1178.69,58.10 L1177.52,58.20 L1176.31,58.30 L1175.07,58.40 L1173.82,58.50 L1172.60,58.60 L1171.41,58.70 L1170.28,58.80 L1169.22,58.90 L1168.24,59.00 L1167.35,59.10 L1166.54,59.20 L1165.83,59.30 L1165.20,59.40 L1164.67,59.50 L1164.21,59.60 L1163.82,59.70 L1163.50,59.80 L1163.24,59.90 L1163.02,60.00 L1162.85,60.10 L1162.72,60.20 L1162.61,60.30 L1162.53,60.40 L1162.53,60.40 L1162.44,60.30 L1162.33,60.20 L1162.20,60.10 L1162.03,60.00 L1161.81,59.90 L1161.55,59.80 L1161.23,59.70 L1160.84,59.60 L1160.38,59.50 L1159.85,59.40 L1159.22,59.30 L1158.51,59.20 L1157.70,59.10 L1156.81,59.00 L1155.83,58.90 L1154.77,58.80 L1153.64,58.70 L1152.45,58.60 L1151.23,58.50 L1149.98,58.40 L1148.74,58.30 L1147.53,58.20 L1146.36,58.10 L1145.26,58.00 L1144.26,57.90 L1143.37,57.80 L1142.61,57.70 L1141.99,57.60 L1141.52,57.50 L1141.20,57.40 L1141.02,57.30 L1140.96,57.20 L1141.04,57.10 L1141.30,57.00 L1141.76,56.90 L1142.44,56.80 L1143.32,56.70 L1144.38,56.60 L1145.60,56.50 L1146.94,56.40 L1148.37,56.30 L1149.84,56.20 L1151.31,56.10 L1152.76,56.00 L1154.15,55.90 L1155.44,55.80 L1156.63,55.70 L1157.70,55.60 L1158.64,55.50 L1159.45,55.40 L1160.13,55.30 L1160.70,55.20 L1161.17,55.10 L1161.54,55.00 L1161.83,54.90 L1162.06,54.80 L1162.23,54.70 L1162.36,54.60 L1162.46,54.50 L1162.53,54.40Z" fill="#d9d9d9" stroke="#7c7c7c" stroke-width="1.4" stroke-linejoin="round"/><path d="M1162.53,55.10V59.70M1153.33,55.10H1171.73M1153.33,59.70H1171.73" stroke="#000" stroke-width="1.7" fill="none"/><circle cx="1162.53" cy="57.20" r="2.6" fill="#000"/><path d="M1236.41,50.80 L1236.48,50.90 L1236.58,51.00 L1236.71,51.10 L1236.88,51.20 L1237.11,51.30 L1237.39,51.40 L1237.75,51.50 L1238.19,51.60 L1238.73,51.70 L1239.37,51.80 L1240.13,51.90 L1241.00,52.00 L1241.99,52.10 L1243.09,52.20 L1244.30,52.30 L1245.59,52.40 L1246.95,52.50 L1248.35,52.60 L1249.76,52.70 L1251.15,52.80 L1252.49,52.90 L1253.73,53.00 L1254.85,53.10 L1255.83,53.20 L1256.63,53.30 L1257.24,53.40 L1257.67,53.50 L1257.90,53.60 L1257.97,53.70 L1257.91,53.80 L1257.70,53.90 L1257.31,54.00 L1256.75,54.10 L1256.02,54.20 L1255.13,54.30 L1254.10,54.40 L1252.94,54.50 L1251.69,54.60 L1250.38,54.70 L1249.04,54.80 L1247.69,54.90 L1246.37,55.00 L1245.09,55.10 L1243.88,55.20 L1242.76,55.30 L1241.74,55.40 L1240.82,55.50 L1240.01,55.60 L1239.31,55.70 L1238.70,55.80 L1238.20,55.90 L1237.78,56.00 L1237.44,56.10 L1237.16,56.20 L1236.94,56.30 L1236.77,56.40 L1236.64,56.50 L1236.54,56.60 L1236.46,56.70 L1236.41,56.80 L1236.41,56.80 L1236.35,56.70 L1236.28,56.60 L1236.18,56.50 L1236.05,56.40 L1235.88,56.30 L1235.66,56.20 L1235.38,56.10 L1235.04,56.00 L1234.62,55.90 L1234.11,55.80 L1233.51,55.70 L1232.81,55.60 L1232.00,55.50 L1231.08,55.40 L1230.05,55.30 L1228.93,55.20 L1227.73,55.10 L1226.45,55.00 L1225.13,54.90 L1223.78,54.80 L1222.43,54.70 L1221.12,54.60 L1219.88,54.50 L1218.72,54.40 L1217.69,54.30 L1216.79,54.20 L1216.06,54.10 L1215.50,54.00 L1215.12,53.90 L1214.91,53.80 L1214.84,53.70 L1214.91,53.60 L1215.15,53.50 L1215.57,53.40 L1216.19,53.30 L1216.99,53.20 L1217.96,53.10 L1219.08,53.00 L1220.33,52.90 L1221.66,52.80 L1223.05,52.70 L1224.47,52.60 L1225.87,52.50 L1227.23,52.40 L1228.52,52.30 L1229.73,52.20 L1230.83,52.10 L1231.82,52.00 L1232.69,51.90 L1233.44,51.80 L1234.09,51.70 L1234.62,51.60 L1235.07,51.50 L1235.42,51.40 L1235.71,51.30 L1235.93,51.20 L1236.10,51.10 L1236.24,51.00 L1236.33,50.90 L1236.41,50.80Z" fill="#d9d9d9" stroke="#7c7c7c" stroke-width="1.4" stroke-linejoin="round"/><path d="M1236.41,51.50V56.00M1227.21,51.50H1245.61M1227.21,56.00H1245.61" stroke="#000" stroke-width="1.7" fill="none"/><circle cx="1236.41" cy="53.70" r="2.6" fill="#000"/><path d="M1310.29,43.20 L1310.33,43.27 L1310.38,43.35 L1310.46,43.42 L1310.58,43.49 L1310.74,43.57 L1310.95,43.64 L1311.24,43.71 L1311.63,43.79 L1312.12,43.86 L1312.74,43.93 L1313.50,44.01 L1314.41,44.08 L1315.47,44.15 L1316.69,44.23 L1318.05,44.30 L1319.53,44.37 L1321.10,44.45 L1322.71,44.52 L1324.33,44.59 L1325.90,44.67 L1327.36,44.74 L1328.68,44.81 L1329.79,44.89 L1330.68,44.96 L1331.32,45.03 L1331.70,45.11 L1331.85,45.18 L1331.83,45.25 L1331.68,45.33 L1331.39,45.40 L1330.94,45.47 L1330.34,45.55 L1329.59,45.62 L1328.71,45.69 L1327.71,45.77 L1326.60,45.84 L1325.42,45.91 L1324.19,45.99 L1322.93,46.06 L1321.67,46.13 L1320.42,46.21 L1319.22,46.28 L1318.07,46.35 L1316.99,46.43 L1316.00,46.50 L1315.10,46.57 L1314.29,46.65 L1313.57,46.72 L1312.95,46.79 L1312.42,46.87 L1311.96,46.94 L1311.59,47.01 L1311.27,47.09 L1311.02,47.16 L1310.81,47.23 L1310.65,47.31 L1310.52,47.38 L1310.43,47.45 L1310.35,47.53 L1310.29,47.60 L1310.29,47.60 L1310.23,47.53 L1310.16,47.45 L1310.06,47.38 L1309.93,47.31 L1309.77,47.23 L1309.56,47.16 L1309.31,47.09 L1309.00,47.01 L1308.62,46.94 L1308.17,46.87 L1307.63,46.79 L1307.01,46.72 L1306.30,46.65 L1305.49,46.57 L1304.58,46.50 L1303.59,46.43 L1302.52,46.35 L1301.37,46.28 L1300.16,46.21 L1298.92,46.13 L1297.65,46.06 L1296.39,45.99 L1295.16,45.91 L1293.98,45.84 L1292.88,45.77 L1291.87,45.69 L1290.99,45.62 L1290.24,45.55 L1289.64,45.47 L1289.20,45.40 L1288.90,45.33 L1288.75,45.25 L1288.73,45.18 L1288.88,45.11 L1289.26,45.03 L1289.90,44.96 L1290.79,44.89 L1291.91,44.81 L1293.22,44.74 L1294.68,44.67 L1296.25,44.59 L1297.87,44.52 L1299.49,44.45 L1301.05,44.37 L1302.53,44.30 L1303.89,44.23 L1305.11,44.15 L1306.18,44.08 L1307.09,44.01 L1307.85,43.93 L1308.46,43.86 L1308.96,43.79 L1309.34,43.71 L1309.63,43.64 L1309.85,43.57 L1310.01,43.49 L1310.12,43.42 L1310.20,43.35 L1310.25,43.27 L1310.29,43.20Z" fill="#d9d9d9" stroke="#7c7c7c" stroke-width="1.4" stroke-linejoin="round"/><path d="M1310.29,43.80V47.00M1301.09,43.80H1319.49M1301.09,47.00H1319.49" stroke="#000" stroke-width="1.7" fill="none"/><circle cx="1310.29" cy="45.20" r="2.6" fill="#000"/><path d="M1384.18,49.20 L1384.24,49.30 L1384.33,49.39 L1384.45,49.49 L1384.61,49.59 L1384.82,49.68 L1385.10,49.78 L1385.44,49.88 L1385.86,49.97 L1386.38,50.07 L1387.01,50.17 L1387.75,50.26 L1388.61,50.36 L1389.59,50.46 L1390.69,50.55 L1391.89,50.65 L1393.19,50.75 L1394.56,50.84 L1395.98,50.94 L1397.41,51.04 L1398.82,51.13 L1400.17,51.23 L1401.44,51.33 L1402.58,51.42 L1403.57,51.52 L1404.39,51.62 L1405.01,51.71 L1405.44,51.81 L1405.67,51.91 L1405.74,52.00 L1405.68,52.10 L1405.47,52.20 L1405.11,52.29 L1404.58,52.39 L1403.89,52.49 L1403.05,52.58 L1402.07,52.68 L1400.97,52.78 L1399.78,52.87 L1398.53,52.97 L1397.24,53.07 L1395.93,53.16 L1394.63,53.26 L1393.38,53.36 L1392.18,53.45 L1391.05,53.55 L1390.01,53.65 L1389.06,53.74 L1388.22,53.84 L1387.47,53.94 L1386.82,54.03 L1386.27,54.13 L1385.80,54.23 L1385.41,54.32 L1385.10,54.42 L1384.84,54.52 L1384.63,54.61 L1384.47,54.71 L1384.35,54.81 L1384.25,54.90 L1384.18,55.00 L1384.18,55.00 L1384.10,54.90 L1384.00,54.81 L1383.88,54.71 L1383.72,54.61 L1383.51,54.52 L1383.25,54.42 L1382.94,54.32 L1382.55,54.23 L1382.08,54.13 L1381.53,54.03 L1380.88,53.94 L1380.13,53.84 L1379.29,53.74 L1378.34,53.65 L1377.30,53.55 L1376.17,53.45 L1374.97,53.36 L1373.72,53.26 L1372.42,53.16 L1371.11,53.07 L1369.82,52.97 L1368.57,52.87 L1367.38,52.78 L1366.28,52.68 L1365.30,52.58 L1364.46,52.49 L1363.77,52.39 L1363.24,52.29 L1362.88,52.20 L1362.67,52.10 L1362.61,52.00 L1362.68,51.91 L1362.91,51.81 L1363.34,51.71 L1363.96,51.62 L1364.78,51.52 L1365.77,51.42 L1366.91,51.33 L1368.18,51.23 L1369.53,51.13 L1370.94,51.04 L1372.37,50.94 L1373.79,50.84 L1375.16,50.75 L1376.46,50.65 L1377.66,50.55 L1378.76,50.46 L1379.74,50.36 L1380.60,50.26 L1381.34,50.17 L1381.97,50.07 L1382.49,49.97 L1382.91,49.88 L1383.25,49.78 L1383.53,49.68 L1383.74,49.59 L1383.90,49.49 L1384.02,49.39 L1384.11,49.30 L1384.18,49.20Z" fill="#d9d9d9" stroke="#7c7c7c" stroke-width="1.4" stroke-linejoin="round"/><path d="M1384.18,49.90V54.30M1374.98,49.90H1393.38M1374.98,54.30H1393.38" stroke="#000" stroke-width="1.7" fill="none"/><circle cx="1384.18" cy="52.00" r="2.6" fill="#000"/><path d="M1458.06,63.60 L1458.14,63.70 L1458.25,63.81 L1458.39,63.91 L1458.57,64.01 L1458.81,64.12 L1459.10,64.22 L1459.48,64.32 L1459.93,64.43 L1460.49,64.53 L1461.14,64.63 L1461.91,64.74 L1462.79,64.84 L1463.79,64.94 L1464.90,65.05 L1466.10,65.15 L1467.39,65.25 L1468.74,65.36 L1470.13,65.46 L1471.52,65.56 L1472.90,65.67 L1474.21,65.77 L1475.44,65.87 L1476.54,65.98 L1477.50,66.08 L1478.29,66.18 L1478.89,66.29 L1479.31,66.39 L1479.55,66.49 L1479.62,66.60 L1479.57,66.70 L1479.38,66.80 L1479.04,66.91 L1478.54,67.01 L1477.88,67.11 L1477.07,67.22 L1476.13,67.32 L1475.07,67.42 L1473.92,67.53 L1472.70,67.63 L1471.43,67.73 L1470.14,67.84 L1468.86,67.94 L1467.61,68.04 L1466.41,68.15 L1465.28,68.25 L1464.22,68.35 L1463.26,68.46 L1462.39,68.56 L1461.61,68.66 L1460.94,68.77 L1460.35,68.87 L1459.85,68.97 L1459.44,69.08 L1459.09,69.18 L1458.81,69.28 L1458.58,69.39 L1458.40,69.49 L1458.26,69.59 L1458.14,69.70 L1458.06,69.80 L1458.06,69.80 L1457.97,69.70 L1457.86,69.59 L1457.72,69.49 L1457.54,69.39 L1457.31,69.28 L1457.02,69.18 L1456.68,69.08 L1456.26,68.97 L1455.76,68.87 L1455.18,68.77 L1454.50,68.66 L1453.73,68.56 L1452.86,68.46 L1451.90,68.35 L1450.84,68.25 L1449.71,68.15 L1448.51,68.04 L1447.25,67.94 L1445.97,67.84 L1444.69,67.73 L1443.42,67.63 L1442.20,67.53 L1441.05,67.42 L1439.99,67.32 L1439.05,67.22 L1438.24,67.11 L1437.58,67.01 L1437.08,66.91 L1436.74,66.80 L1436.55,66.70 L1436.49,66.60 L1436.57,66.49 L1436.80,66.39 L1437.22,66.29 L1437.83,66.18 L1438.62,66.08 L1439.58,65.98 L1440.68,65.87 L1441.91,65.77 L1443.22,65.67 L1444.59,65.56 L1445.99,65.46 L1447.38,65.36 L1448.73,65.25 L1450.02,65.15 L1451.22,65.05 L1452.33,64.94 L1453.32,64.84 L1454.21,64.74 L1454.97,64.63 L1455.63,64.53 L1456.18,64.43 L1456.64,64.32 L1457.01,64.22 L1457.31,64.12 L1457.55,64.01 L1457.73,63.91 L1457.87,63.81 L1457.98,63.70 L1458.06,63.60Z" fill="#d9d9d9" stroke="#7c7c7c" stroke-width="1.4" stroke-linejoin="round"/><path d="M1458.06,64.30V69.10M1448.86,64.30H1467.26M1448.86,69.10H1467.26" stroke="#000" stroke-width="1.7" fill="none"/><circle cx="1458.06" cy="66.60" r="2.6" fill="#000"/><path d="M1053.20,35.35H1062.00M1053.20,134.99H1062.00M1053.20,234.62H1062.00M1053.20,334.26H1062.00M1088.64,432.40V423.50M1162.53,432.40V423.50M1236.41,432.40V423.50M1310.29,432.40V423.50M1384.18,432.40V423.50M1458.06,432.40V423.50" stroke="#151515" stroke-width="3" fill="none"/><rect x="1050.20" y="33.85" width="3" height="401.55" fill="#151515"/><rect x="1050.20" y="432.40" width="446.30" height="3" fill="#151515"/><text x="0" y="0" font-size="28.0" text-anchor="end" transform="translate(1101.24,465.80) rotate(-30) scale(1,1.045)">ELM</text><text x="0" y="0" font-size="28.0" text-anchor="end" transform="translate(1175.12,465.80) rotate(-30) scale(1,1.045)">CTELM</text><text x="0" y="0" font-size="28.0" text-anchor="end" transform="translate(1249.01,465.80) rotate(-30) scale(1,1.045)">CCTELM</text><text x="0" y="0" font-size="28.0" text-anchor="end" transform="translate(1322.89,465.80) rotate(-30) scale(1,1.045)">Inf Mem</text><text x="0" y="0" font-size="28.0" text-anchor="end" transform="translate(1396.78,465.80) rotate(-30) scale(1,1.045)">No SacAmp Penalty</text><text x="0" y="0" font-size="28.0" text-anchor="end" transform="translate(1470.66,465.80) rotate(-30) scale(1,1.045)">No SLP Error</text><text transform="translate(1273.35,26.70) scale(1,1.02)" font-size="31.0" text-anchor="middle">Fixation location (all)</text><text x="1025.50" y="27.65" font-size="38.0" font-weight="bold">c</text></g>
<g><path d="M156.83,706.10 L156.94,706.34 L157.08,706.58 L157.27,706.82 L157.53,707.05 L157.86,707.29 L158.28,707.53 L158.81,707.77 L159.46,708.01 L160.25,708.25 L161.18,708.48 L162.27,708.72 L163.52,708.96 L164.91,709.20 L166.45,709.44 L168.09,709.67 L169.82,709.91 L171.60,710.15 L173.38,710.39 L175.13,710.63 L176.78,710.87 L178.30,711.11 L179.64,711.34 L180.76,711.58 L181.65,711.82 L182.29,712.06 L182.67,712.30 L182.82,712.53 L182.78,712.77 L182.53,713.01 L182.02,713.25 L181.24,713.49 L180.21,713.73 L178.94,713.97 L177.47,714.20 L175.84,714.44 L174.10,714.68 L172.30,714.92 L170.48,715.16 L168.70,715.39 L167.00,715.63 L165.41,715.87 L163.96,716.11 L162.66,716.35 L161.52,716.59 L160.54,716.83 L159.72,717.06 L159.04,717.30 L158.50,717.54 L158.06,717.78 L157.72,718.02 L157.47,718.25 L157.28,718.49 L157.13,718.73 L157.03,718.97 L156.96,719.21 L156.91,719.45 L156.88,719.68 L156.85,719.92 L156.84,720.16 L156.83,720.40 L156.83,720.40 L156.82,720.16 L156.81,719.92 L156.78,719.68 L156.75,719.45 L156.70,719.21 L156.63,718.97 L156.53,718.73 L156.38,718.49 L156.19,718.25 L155.94,718.02 L155.60,717.78 L155.16,717.54 L154.62,717.30 L153.94,717.06 L153.12,716.83 L152.14,716.59 L151.00,716.35 L149.70,716.11 L148.25,715.87 L146.66,715.63 L144.96,715.39 L143.18,715.16 L141.36,714.92 L139.56,714.68 L137.82,714.44 L136.19,714.20 L134.72,713.97 L133.45,713.73 L132.42,713.49 L131.64,713.25 L131.13,713.01 L130.88,712.77 L130.84,712.53 L130.99,712.30 L131.37,712.06 L132.01,711.82 L132.90,711.58 L134.02,711.34 L135.36,711.11 L136.88,710.87 L138.53,710.63 L140.28,710.39 L142.06,710.15 L143.84,709.91 L145.57,709.67 L147.21,709.44 L148.75,709.20 L150.14,708.96 L151.39,708.72 L152.48,708.48 L153.41,708.25 L154.20,708.01 L154.85,707.77 L155.38,707.53 L155.80,707.29 L156.13,707.05 L156.39,706.82 L156.58,706.58 L156.72,706.34 L156.83,706.10Z" fill="#d9d9d9" stroke="#7c7c7c" stroke-width="1.4" stroke-linejoin="round"/><path d="M156.83,707.60V717.50M147.63,707.60H166.03M147.63,717.50H166.03" stroke="#000" stroke-width="1.7" fill="none"/><circle cx="156.83" cy="712.60" r="2.6" fill="#000"/><path d="M245.49,676.60 L245.54,676.74 L245.61,676.89 L245.72,677.03 L245.88,677.17 L246.11,677.32 L246.42,677.46 L246.84,677.60 L247.39,677.75 L248.10,677.89 L248.99,678.03 L250.08,678.18 L251.37,678.32 L252.87,678.46 L254.57,678.61 L256.42,678.75 L258.41,678.89 L260.46,679.04 L262.51,679.18 L264.49,679.32 L266.33,679.47 L267.95,679.61 L269.31,679.75 L270.34,679.90 L271.04,680.04 L271.41,680.18 L271.48,680.33 L271.30,680.47 L270.77,680.61 L269.88,680.76 L268.63,680.90 L267.06,681.04 L265.23,681.19 L263.22,681.33 L261.10,681.47 L258.96,681.62 L256.88,681.76 L254.92,681.90 L253.14,682.05 L251.55,682.19 L250.19,682.33 L249.06,682.48 L248.14,682.62 L247.41,682.76 L246.85,682.91 L246.43,683.05 L246.12,683.19 L245.91,683.34 L245.76,683.48 L245.66,683.62 L245.59,683.77 L245.55,683.91 L245.53,684.05 L245.51,684.20 L245.50,684.34 L245.50,684.48 L245.49,684.63 L245.49,684.77 L245.49,684.91 L245.49,685.06 L245.49,685.20 L245.49,685.20 L245.49,685.06 L245.49,684.91 L245.49,684.77 L245.49,684.63 L245.48,684.48 L245.48,684.34 L245.47,684.20 L245.45,684.05 L245.43,683.91 L245.39,683.77 L245.32,683.62 L245.22,683.48 L245.07,683.34 L244.86,683.19 L244.55,683.05 L244.13,682.91 L243.57,682.76 L242.84,682.62 L241.92,682.48 L240.79,682.33 L239.43,682.19 L237.84,682.05 L236.06,681.90 L234.10,681.76 L232.02,681.62 L229.88,681.47 L227.76,681.33 L225.75,681.19 L223.92,681.04 L222.35,680.90 L221.10,680.76 L220.21,680.61 L219.68,680.47 L219.50,680.33 L219.57,680.18 L219.94,680.04 L220.64,679.90 L221.67,679.75 L223.03,679.61 L224.65,679.47 L226.49,679.32 L228.47,679.18 L230.52,679.04 L232.57,678.89 L234.56,678.75 L236.41,678.61 L238.11,678.46 L239.61,678.32 L240.90,678.18 L241.99,678.03 L242.88,677.89 L243.59,677.75 L244.14,677.60 L244.56,677.46 L244.87,677.32 L245.10,677.17 L245.26,677.03 L245.37,676.89 L245.44,676.74 L245.49,676.60Z" fill="#d9d9d9" stroke="#7c7c7c" stroke-width="1.4" stroke-linejoin="round"/><path d="M245.49,677.70V682.80M236.29,677.70H254.69M236.29,682.80H254.69" stroke="#000" stroke-width="1.7" fill="none"/><circle cx="245.49" cy="680.30" r="2.6" fill="#000"/><path d="M334.15,683.50 L334.29,683.68 L334.48,683.86 L334.71,684.04 L335.02,684.22 L335.40,684.40 L335.88,684.58 L336.46,684.76 L337.16,684.94 L337.98,685.12 L338.95,685.30 L340.05,685.48 L341.28,685.66 L342.65,685.84 L344.14,686.02 L345.72,686.20 L347.37,686.38 L349.05,686.56 L350.74,686.74 L352.39,686.92 L353.96,687.10 L355.41,687.28 L356.71,687.46 L357.82,687.64 L358.72,687.82 L359.40,688.00 L359.86,688.18 L360.10,688.36 L360.14,688.54 L359.98,688.72 L359.52,688.90 L358.76,689.08 L357.68,689.26 L356.32,689.44 L354.72,689.62 L352.94,689.80 L351.02,689.98 L349.05,690.16 L347.09,690.34 L345.19,690.52 L343.40,690.70 L341.75,690.88 L340.29,691.06 L339.02,691.24 L337.93,691.42 L337.03,691.60 L336.31,691.78 L335.73,691.96 L335.28,692.14 L334.95,692.32 L334.70,692.50 L334.52,692.68 L334.39,692.86 L334.31,693.04 L334.25,693.22 L334.21,693.40 L334.18,693.58 L334.17,693.76 L334.16,693.94 L334.15,694.12 L334.15,694.30 L334.15,694.30 L334.15,694.12 L334.14,693.94 L334.13,693.76 L334.12,693.58 L334.09,693.40 L334.05,693.22 L333.99,693.04 L333.91,692.86 L333.78,692.68 L333.60,692.50 L333.35,692.32 L333.02,692.14 L332.57,691.96 L331.99,691.78 L331.27,691.60 L330.37,691.42 L329.28,691.24 L328.01,691.06 L326.55,690.88 L324.90,690.70 L323.11,690.52 L321.21,690.34 L319.25,690.16 L317.28,689.98 L315.36,689.80 L313.58,689.62 L311.98,689.44 L310.62,689.26 L309.54,689.08 L308.78,688.90 L308.32,688.72 L308.16,688.54 L308.20,688.36 L308.44,688.18 L308.90,688.00 L309.58,687.82 L310.48,687.64 L311.59,687.46 L312.89,687.28 L314.34,687.10 L315.91,686.92 L317.56,686.74 L319.25,686.56 L320.93,686.38 L322.58,686.20 L324.16,686.02 L325.65,685.84 L327.02,685.66 L328.25,685.48 L329.35,685.30 L330.32,685.12 L331.14,684.94 L331.84,684.76 L332.42,684.58 L332.90,684.40 L333.28,684.22 L333.59,684.04 L333.82,683.86 L334.01,683.68 L334.15,683.50Z" fill="#d9d9d9" stroke="#7c7c7c" stroke-width="1.4" stroke-linejoin="round"/><path d="M334.15,684.50V691.90M324.95,684.50H343.35M324.95,691.90H343.35" stroke="#000" stroke-width="1.7" fill="none"/><circle cx="334.15" cy="688.50" r="2.6" fill="#000"/><path d="M422.81,697.40 L422.86,697.57 L422.94,697.73 L423.04,697.90 L423.18,698.07 L423.36,698.23 L423.60,698.40 L423.91,698.57 L424.31,698.73 L424.81,698.90 L425.42,699.07 L426.16,699.23 L427.03,699.40 L428.05,699.57 L429.22,699.73 L430.53,699.90 L431.97,700.07 L433.53,700.23 L435.18,700.40 L436.89,700.57 L438.63,700.73 L440.34,700.90 L441.99,701.07 L443.53,701.23 L444.92,701.40 L446.14,701.57 L447.14,701.73 L447.90,701.90 L448.43,702.07 L448.72,702.23 L448.81,702.40 L448.73,702.57 L448.48,702.73 L448.03,702.90 L447.38,703.07 L446.52,703.23 L445.48,703.40 L444.27,703.57 L442.91,703.73 L441.44,703.90 L439.89,704.07 L438.30,704.23 L436.70,704.40 L435.12,704.57 L433.59,704.73 L432.13,704.90 L430.77,705.07 L429.52,705.23 L428.39,705.40 L427.39,705.57 L426.51,705.73 L425.75,705.90 L425.10,706.07 L424.56,706.23 L424.12,706.40 L423.76,706.57 L423.47,706.73 L423.24,706.90 L423.06,707.07 L422.92,707.23 L422.81,707.40 L422.81,707.40 L422.70,707.23 L422.56,707.07 L422.38,706.90 L422.15,706.73 L421.86,706.57 L421.50,706.40 L421.06,706.23 L420.52,706.07 L419.87,705.90 L419.11,705.73 L418.23,705.57 L417.23,705.40 L416.10,705.23 L414.85,705.07 L413.49,704.90 L412.03,704.73 L410.50,704.57 L408.92,704.40 L407.32,704.23 L405.73,704.07 L404.18,703.90 L402.71,703.73 L401.35,703.57 L400.14,703.40 L399.10,703.23 L398.24,703.07 L397.59,702.90 L397.14,702.73 L396.89,702.57 L396.81,702.40 L396.90,702.23 L397.19,702.07 L397.72,701.90 L398.48,701.73 L399.48,701.57 L400.70,701.40 L402.09,701.23 L403.63,701.07 L405.28,700.90 L406.99,700.73 L408.73,700.57 L410.44,700.40 L412.09,700.23 L413.65,700.07 L415.09,699.90 L416.40,699.73 L417.57,699.57 L418.59,699.40 L419.46,699.23 L420.20,699.07 L420.81,698.90 L421.31,698.73 L421.71,698.57 L422.02,698.40 L422.26,698.23 L422.44,698.07 L422.58,697.90 L422.68,697.73 L422.76,697.57 L422.81,697.40Z" fill="#d9d9d9" stroke="#7c7c7c" stroke-width="1.4" stroke-linejoin="round"/><path d="M422.81,698.80V706.30M413.61,698.80H432.01M413.61,706.30H432.01" stroke="#000" stroke-width="1.7" fill="none"/><circle cx="422.81" cy="702.40" r="2.6" fill="#000"/><path d="M511.47,686.10 L511.47,686.30 L511.47,686.50 L511.48,686.70 L511.48,686.89 L511.50,687.09 L511.52,687.29 L511.55,687.49 L511.59,687.69 L511.67,687.88 L511.78,688.08 L511.94,688.28 L512.16,688.48 L512.48,688.68 L512.90,688.88 L513.46,689.08 L514.17,689.27 L515.07,689.47 L516.16,689.67 L517.46,689.87 L518.97,690.07 L520.67,690.26 L522.53,690.46 L524.51,690.66 L526.56,690.86 L528.60,691.06 L530.58,691.26 L532.40,691.46 L534.01,691.65 L535.35,691.85 L536.37,692.05 L537.05,692.25 L537.40,692.45 L537.46,692.64 L537.30,692.84 L536.85,693.04 L536.10,693.24 L535.06,693.44 L533.73,693.64 L532.17,693.84 L530.42,694.03 L528.54,694.23 L526.60,694.43 L524.65,694.63 L522.76,694.83 L520.97,695.02 L519.33,695.22 L517.85,695.42 L516.55,695.62 L515.44,695.82 L514.51,696.02 L513.75,696.22 L513.14,696.41 L512.66,696.61 L512.30,696.81 L512.03,697.01 L511.83,697.21 L511.69,697.40 L511.59,697.60 L511.52,697.80 L511.47,698.00 L511.47,698.00 L511.42,697.80 L511.35,697.60 L511.25,697.40 L511.11,697.21 L510.91,697.01 L510.64,696.81 L510.28,696.61 L509.80,696.41 L509.19,696.22 L508.43,696.02 L507.50,695.82 L506.39,695.62 L505.09,695.42 L503.61,695.22 L501.97,695.02 L500.18,694.83 L498.29,694.63 L496.34,694.43 L494.40,694.23 L492.52,694.03 L490.77,693.84 L489.21,693.64 L487.88,693.44 L486.84,693.24 L486.09,693.04 L485.64,692.84 L485.48,692.64 L485.54,692.45 L485.89,692.25 L486.57,692.05 L487.59,691.85 L488.93,691.65 L490.54,691.46 L492.36,691.26 L494.34,691.06 L496.38,690.86 L498.43,690.66 L500.41,690.46 L502.27,690.26 L503.97,690.07 L505.48,689.87 L506.78,689.67 L507.87,689.47 L508.77,689.27 L509.48,689.08 L510.04,688.88 L510.46,688.68 L510.78,688.48 L511.00,688.28 L511.16,688.08 L511.27,687.88 L511.35,687.69 L511.39,687.49 L511.42,687.29 L511.44,687.09 L511.46,686.89 L511.46,686.70 L511.47,686.50 L511.47,686.30 L511.47,686.10Z" fill="#d9d9d9" stroke="#7c7c7c" stroke-width="1.4" stroke-linejoin="round"/><path d="M511.47,689.00V696.40M502.27,689.00H520.67M502.27,696.40H520.67" stroke="#000" stroke-width="1.7" fill="none"/><circle cx="511.47" cy="692.60" r="2.6" fill="#000"/><path d="M114.00,655.90H122.80M114.00,755.58H122.80M114.00,855.25H122.80M114.00,954.92H122.80M156.83,1053.10V1044.20M245.49,1053.10V1044.20M334.15,1053.10V1044.20M422.81,1053.10V1044.20M511.47,1053.10V1044.20" stroke="#151515" stroke-width="3" fill="none"/><rect x="111.00" y="654.40" width="3" height="401.70" fill="#151515"/><rect x="111.00" y="1053.10" width="446.30" height="3" fill="#151515"/><text transform="translate(104.20,665.70) scale(1,1.03)" font-size="28.3" text-anchor="end">1.00</text><text transform="translate(104.20,765.38) scale(1,1.03)" font-size="28.3" text-anchor="end">0.95</text><text transform="translate(104.20,865.05) scale(1,1.03)" font-size="28.3" text-anchor="end">0.90</text><text transform="translate(104.20,964.72) scale(1,1.03)" font-size="28.3" text-anchor="end">0.85</text><text transform="translate(104.20,1064.40) scale(1,1.03)" font-size="28.3" text-anchor="end">0.80</text><text x="0" y="0" font-size="28.0" text-anchor="end" transform="translate(169.43,1086.50) rotate(-30) scale(1,1.045)">CTELM</text><text x="0" y="0" font-size="28.0" text-anchor="end" transform="translate(258.09,1086.50) rotate(-30) scale(1,1.045)">CCTELM</text><text x="0" y="0" font-size="28.0" text-anchor="end" transform="translate(346.75,1086.50) rotate(-30) scale(1,1.045)">Inf Mem</text><text x="0" y="0" font-size="28.0" text-anchor="end" transform="translate(435.41,1086.50) rotate(-30) scale(1,1.045)">No SacAmp Penalty</text><text x="0" y="0" font-size="28.0" text-anchor="end" transform="translate(524.07,1086.50) rotate(-30) scale(1,1.045)">No SLP Error</text><text transform="translate(334.15,647.25) scale(1,1.02)" font-size="31.0" text-anchor="middle">Fixation duration (initial 20)</text><text x="13.00" y="648.20" font-size="38.0" font-weight="bold">d</text></g>
<g><path d="M619.14,971.10 L619.20,971.59 L619.29,972.09 L619.40,972.58 L619.54,973.07 L619.72,973.57 L619.96,974.06 L620.25,974.55 L620.61,975.05 L621.05,975.54 L621.58,976.03 L622.20,976.53 L622.92,977.02 L623.74,977.51 L624.67,978.01 L625.70,978.50 L626.83,978.99 L628.03,979.49 L629.30,979.98 L630.61,980.47 L631.94,980.97 L633.27,981.46 L634.56,981.95 L635.78,982.45 L636.91,982.94 L637.92,983.43 L638.80,983.93 L639.51,984.42 L640.06,984.91 L640.43,985.41 L640.64,985.90 L640.71,986.39 L640.64,986.89 L640.44,987.38 L640.09,987.87 L639.58,988.37 L638.90,988.86 L638.08,989.35 L637.13,989.85 L636.06,990.34 L634.89,990.83 L633.65,991.33 L632.38,991.82 L631.08,992.31 L629.79,992.81 L628.53,993.30 L627.32,993.79 L626.18,994.29 L625.13,994.78 L624.16,995.27 L623.29,995.77 L622.51,996.26 L621.83,996.75 L621.25,997.25 L620.75,997.74 L620.33,998.23 L619.99,998.73 L619.70,999.22 L619.47,999.71 L619.29,1000.21 L619.14,1000.70 L619.14,1000.70 L619.00,1000.21 L618.81,999.71 L618.58,999.22 L618.30,998.73 L617.95,998.23 L617.53,997.74 L617.03,997.25 L616.45,996.75 L615.77,996.26 L615.00,995.77 L614.13,995.27 L613.16,994.78 L612.10,994.29 L610.96,993.79 L609.75,993.30 L608.49,992.81 L607.20,992.31 L605.91,991.82 L604.63,991.33 L603.39,990.83 L602.23,990.34 L601.16,989.85 L600.20,989.35 L599.38,988.86 L598.71,988.37 L598.19,987.87 L597.84,987.38 L597.64,986.89 L597.58,986.39 L597.64,985.90 L597.85,985.41 L598.23,984.91 L598.77,984.42 L599.49,983.93 L600.36,983.43 L601.37,982.94 L602.50,982.45 L603.73,981.95 L605.01,981.46 L606.34,980.97 L607.67,980.47 L608.98,979.98 L610.25,979.49 L611.46,978.99 L612.58,978.50 L613.61,978.01 L614.54,977.51 L615.37,977.02 L616.09,976.53 L616.71,976.03 L617.23,975.54 L617.67,975.05 L618.03,974.55 L618.33,974.06 L618.56,973.57 L618.74,973.07 L618.89,972.58 L619.00,972.09 L619.08,971.59 L619.14,971.10Z" fill="#d9d9d9" stroke="#7c7c7c" stroke-width="1.4" stroke-linejoin="round"/><path d="M619.14,974.90V998.30M609.94,974.90H628.34M609.94,998.30H628.34" stroke="#000" stroke-width="1.7" fill="none"/><circle cx="619.14" cy="986.80" r="2.6" fill="#000"/><path d="M693.03,969.10 L693.09,969.60 L693.18,970.09 L693.30,970.59 L693.46,971.08 L693.67,971.58 L693.94,972.07 L694.28,972.57 L694.71,973.06 L695.24,973.56 L695.87,974.05 L696.62,974.54 L697.50,975.04 L698.50,975.53 L699.62,976.03 L700.85,976.52 L702.17,977.02 L703.57,977.51 L705.01,978.01 L706.46,978.50 L707.88,979.00 L709.24,979.50 L710.51,979.99 L711.64,980.49 L712.61,980.98 L713.40,981.48 L713.98,981.97 L714.37,982.47 L714.56,982.96 L714.58,983.46 L714.49,983.95 L714.28,984.44 L713.92,984.94 L713.43,985.43 L712.79,985.93 L712.02,986.42 L711.14,986.92 L710.14,987.41 L709.07,987.91 L707.92,988.40 L706.73,988.90 L705.52,989.39 L704.30,989.89 L703.10,990.38 L701.94,990.88 L700.83,991.38 L699.78,991.87 L698.81,992.37 L697.92,992.86 L697.11,993.36 L696.40,993.85 L695.76,994.34 L695.21,994.84 L694.74,995.33 L694.34,995.83 L694.00,996.32 L693.72,996.82 L693.49,997.31 L693.30,997.81 L693.15,998.30 L693.03,998.80 L693.03,998.80 L692.90,998.30 L692.75,997.81 L692.56,997.31 L692.33,996.82 L692.05,996.32 L691.71,995.83 L691.31,995.33 L690.84,994.84 L690.29,994.34 L689.65,993.85 L688.94,993.36 L688.13,992.86 L687.24,992.37 L686.27,991.87 L685.22,991.38 L684.11,990.88 L682.95,990.38 L681.75,989.89 L680.53,989.39 L679.32,988.90 L678.13,988.40 L676.98,987.91 L675.91,987.41 L674.91,986.92 L674.03,986.42 L673.26,985.93 L672.62,985.43 L672.13,984.94 L671.77,984.44 L671.56,983.95 L671.47,983.46 L671.49,982.96 L671.68,982.47 L672.07,981.97 L672.65,981.48 L673.44,980.98 L674.41,980.49 L675.54,979.99 L676.81,979.50 L678.17,979.00 L679.59,978.50 L681.04,978.01 L682.48,977.51 L683.88,977.02 L685.20,976.52 L686.43,976.03 L687.55,975.53 L688.55,975.04 L689.43,974.54 L690.18,974.05 L690.81,973.56 L691.34,973.06 L691.77,972.57 L692.11,972.07 L692.38,971.58 L692.59,971.08 L692.75,970.59 L692.87,970.09 L692.96,969.60 L693.03,969.10Z" fill="#d9d9d9" stroke="#7c7c7c" stroke-width="1.4" stroke-linejoin="round"/><path d="M693.03,972.70V996.00M683.83,972.70H702.23M683.83,996.00H702.23" stroke="#000" stroke-width="1.7" fill="none"/><circle cx="693.03" cy="983.90" r="2.6" fill="#000"/><path d="M766.91,690.30 L766.94,690.48 L766.99,690.67 L767.06,690.85 L767.15,691.03 L767.26,691.22 L767.42,691.40 L767.63,691.58 L767.89,691.77 L768.22,691.95 L768.62,692.13 L769.12,692.32 L769.72,692.50 L770.42,692.68 L771.24,692.87 L772.16,693.05 L773.20,693.23 L774.35,693.42 L775.58,693.60 L776.89,693.78 L778.26,693.97 L779.64,694.15 L781.02,694.33 L782.36,694.52 L783.63,694.70 L784.80,694.88 L785.83,695.07 L786.72,695.25 L787.42,695.43 L787.95,695.62 L788.29,695.80 L788.45,695.98 L788.46,696.17 L788.33,696.35 L788.03,696.53 L787.52,696.72 L786.83,696.90 L785.94,697.08 L784.90,697.27 L783.71,697.45 L782.41,697.63 L781.03,697.82 L779.62,698.00 L778.19,698.18 L776.80,698.37 L775.45,698.55 L774.19,698.73 L773.02,698.92 L771.96,699.10 L771.03,699.28 L770.21,699.47 L769.50,699.65 L768.91,699.83 L768.42,700.02 L768.02,700.20 L767.70,700.38 L767.45,700.57 L767.26,700.75 L767.11,700.93 L766.99,701.12 L766.91,701.30 L766.91,701.30 L766.82,701.12 L766.71,700.93 L766.56,700.75 L766.37,700.57 L766.11,700.38 L765.79,700.20 L765.39,700.02 L764.90,699.83 L764.31,699.65 L763.61,699.47 L762.79,699.28 L761.85,699.10 L760.80,698.92 L759.63,698.73 L758.36,698.55 L757.02,698.37 L755.62,698.18 L754.20,698.00 L752.78,697.82 L751.41,697.63 L750.11,697.45 L748.92,697.27 L747.87,697.08 L746.99,696.90 L746.29,696.72 L745.79,696.53 L745.48,696.35 L745.35,696.17 L745.37,695.98 L745.53,695.80 L745.87,695.62 L746.39,695.43 L747.10,695.25 L747.98,695.07 L749.02,694.88 L750.19,694.70 L751.46,694.52 L752.80,694.33 L754.18,694.15 L755.56,693.97 L756.92,693.78 L758.23,693.60 L759.47,693.42 L760.61,693.23 L761.65,693.05 L762.58,692.87 L763.40,692.68 L764.10,692.50 L764.69,692.32 L765.19,692.13 L765.60,691.95 L765.93,691.77 L766.19,691.58 L766.39,691.40 L766.55,691.22 L766.67,691.03 L766.76,690.85 L766.83,690.67 L766.87,690.48 L766.91,690.30Z" fill="#d9d9d9" stroke="#7c7c7c" stroke-width="1.4" stroke-linejoin="round"/><path d="M766.91,692.00V700.10M757.71,692.00H776.11M757.71,700.10H776.11" stroke="#000" stroke-width="1.7" fill="none"/><circle cx="766.91" cy="696.10" r="2.6" fill="#000"/><path d="M840.79,711.40 L841.00,711.64 L841.26,711.88 L841.58,712.12 L841.95,712.35 L842.39,712.59 L842.91,712.83 L843.52,713.07 L844.21,713.31 L844.98,713.54 L845.85,713.78 L846.81,714.02 L847.85,714.26 L848.96,714.50 L850.13,714.74 L851.34,714.98 L852.59,715.21 L853.84,715.45 L855.08,715.69 L856.28,715.93 L857.42,716.17 L858.47,716.40 L859.43,716.64 L860.26,716.88 L860.96,717.12 L861.52,717.36 L861.93,717.60 L862.20,717.84 L862.33,718.07 L862.34,718.31 L862.21,718.55 L861.91,718.79 L861.43,719.03 L860.77,719.26 L859.94,719.50 L858.95,719.74 L857.83,719.98 L856.60,720.22 L855.29,720.46 L853.94,720.70 L852.57,720.93 L851.21,721.17 L849.90,721.41 L848.65,721.65 L847.49,721.89 L846.42,722.12 L845.46,722.36 L844.61,722.60 L843.87,722.84 L843.24,723.08 L842.71,723.32 L842.26,723.56 L841.90,723.79 L841.61,724.03 L841.39,724.27 L841.21,724.51 L841.07,724.75 L840.97,724.99 L840.89,725.22 L840.83,725.46 L840.79,725.70 L840.79,725.70 L840.75,725.46 L840.69,725.22 L840.62,724.99 L840.51,724.75 L840.38,724.51 L840.20,724.27 L839.97,724.03 L839.68,723.79 L839.32,723.56 L838.88,723.32 L838.34,723.08 L837.71,722.84 L836.97,722.60 L836.12,722.36 L835.16,722.12 L834.09,721.89 L832.93,721.65 L831.68,721.41 L830.37,721.17 L829.01,720.93 L827.64,720.70 L826.29,720.46 L824.98,720.22 L823.75,719.98 L822.63,719.74 L821.64,719.50 L820.81,719.26 L820.15,719.03 L819.67,718.79 L819.37,718.55 L819.24,718.31 L819.25,718.07 L819.38,717.84 L819.65,717.60 L820.06,717.36 L820.62,717.12 L821.32,716.88 L822.16,716.64 L823.11,716.40 L824.17,716.17 L825.31,715.93 L826.51,715.69 L827.74,715.45 L829.00,715.21 L830.24,714.98 L831.46,714.74 L832.63,714.50 L833.74,714.26 L834.78,714.02 L835.73,713.78 L836.60,713.54 L837.38,713.31 L838.07,713.07 L838.67,712.83 L839.19,712.59 L839.63,712.35 L840.01,712.12 L840.32,711.88 L840.58,711.64 L840.79,711.40Z" fill="#d9d9d9" stroke="#7c7c7c" stroke-width="1.4" stroke-linejoin="round"/><path d="M840.79,712.20V723.60M831.59,712.20H849.99M831.59,723.60H849.99" stroke="#000" stroke-width="1.7" fill="none"/><circle cx="840.79" cy="718.20" r="2.6" fill="#000"/><path d="M914.68,840.00 L914.75,840.39 L914.84,840.79 L914.97,841.18 L915.14,841.58 L915.36,841.98 L915.64,842.37 L915.99,842.76 L916.43,843.16 L916.96,843.56 L917.61,843.95 L918.36,844.35 L919.24,844.74 L920.23,845.13 L921.34,845.53 L922.56,845.92 L923.87,846.32 L925.24,846.72 L926.66,847.11 L928.08,847.50 L929.49,847.90 L930.83,848.30 L932.08,848.69 L933.20,849.09 L934.17,849.48 L934.97,849.88 L935.57,850.27 L935.97,850.66 L936.19,851.06 L936.24,851.46 L936.16,851.85 L935.95,852.25 L935.57,852.64 L935.04,853.04 L934.35,853.43 L933.51,853.83 L932.53,854.22 L931.45,854.62 L930.27,855.01 L929.03,855.40 L927.75,855.80 L926.46,856.20 L925.17,856.59 L923.93,856.99 L922.74,857.38 L921.62,857.78 L920.58,858.17 L919.63,858.57 L918.79,858.96 L918.04,859.36 L917.39,859.75 L916.83,860.14 L916.35,860.54 L915.96,860.94 L915.63,861.33 L915.37,861.73 L915.16,862.12 L914.99,862.52 L914.86,862.91 L914.75,863.31 L914.68,863.70 L914.68,863.70 L914.60,863.31 L914.49,862.91 L914.36,862.52 L914.19,862.12 L913.98,861.73 L913.72,861.33 L913.39,860.94 L913.00,860.54 L912.52,860.14 L911.96,859.75 L911.31,859.36 L910.56,858.96 L909.72,858.57 L908.77,858.17 L907.73,857.78 L906.61,857.38 L905.42,856.99 L904.18,856.59 L902.89,856.20 L901.60,855.80 L900.32,855.40 L899.08,855.01 L897.90,854.62 L896.82,854.22 L895.84,853.83 L895.00,853.43 L894.31,853.04 L893.78,852.64 L893.40,852.25 L893.19,851.85 L893.11,851.46 L893.16,851.06 L893.38,850.66 L893.78,850.27 L894.38,849.88 L895.18,849.48 L896.15,849.09 L897.27,848.69 L898.52,848.30 L899.86,847.90 L901.27,847.50 L902.69,847.11 L904.11,846.72 L905.48,846.32 L906.79,845.92 L908.01,845.53 L909.12,845.13 L910.11,844.74 L910.99,844.35 L911.74,843.95 L912.39,843.56 L912.92,843.16 L913.36,842.76 L913.71,842.37 L913.99,841.98 L914.21,841.58 L914.38,841.18 L914.51,840.79 L914.60,840.39 L914.68,840.00Z" fill="#d9d9d9" stroke="#7c7c7c" stroke-width="1.4" stroke-linejoin="round"/><path d="M914.68,842.80V860.90M905.48,842.80H923.88M905.48,860.90H923.88" stroke="#000" stroke-width="1.7" fill="none"/><circle cx="914.68" cy="851.80" r="2.6" fill="#000"/><path d="M988.56,726.40 L988.61,726.66 L988.68,726.93 L988.77,727.19 L988.89,727.46 L989.05,727.73 L989.25,727.99 L989.51,728.25 L989.82,728.52 L990.21,728.78 L990.68,729.05 L991.24,729.31 L991.90,729.58 L992.65,729.85 L993.52,730.11 L994.48,730.38 L995.54,730.64 L996.69,730.90 L997.92,731.17 L999.20,731.43 L1000.52,731.70 L1001.84,731.96 L1003.15,732.23 L1004.42,732.50 L1005.61,732.76 L1006.69,733.02 L1007.66,733.29 L1008.47,733.55 L1009.13,733.82 L1009.62,734.08 L1009.94,734.35 L1010.10,734.62 L1010.12,734.88 L1010.01,735.14 L1009.74,735.41 L1009.31,735.67 L1008.71,735.94 L1007.95,736.20 L1007.03,736.47 L1005.98,736.74 L1004.82,737.00 L1003.58,737.26 L1002.27,737.53 L1000.94,737.79 L999.61,738.06 L998.30,738.32 L997.04,738.59 L995.85,738.85 L994.74,739.12 L993.73,739.38 L992.82,739.65 L992.01,739.91 L991.30,740.18 L990.70,740.44 L990.18,740.71 L989.76,740.97 L989.40,741.24 L989.12,741.50 L988.89,741.77 L988.70,742.03 L988.56,742.30 L988.56,742.30 L988.41,742.03 L988.23,741.77 L988.00,741.50 L987.71,741.24 L987.36,740.97 L986.93,740.71 L986.42,740.44 L985.81,740.18 L985.11,739.91 L984.30,739.65 L983.39,739.38 L982.38,739.12 L981.27,738.85 L980.08,738.59 L978.82,738.32 L977.51,738.06 L976.18,737.79 L974.85,737.53 L973.54,737.26 L972.29,737.00 L971.13,736.74 L970.08,736.47 L969.17,736.20 L968.40,735.94 L967.80,735.67 L967.37,735.41 L967.11,735.14 L967.00,734.88 L967.02,734.62 L967.18,734.35 L967.50,734.08 L967.99,733.82 L968.64,733.55 L969.46,733.29 L970.42,733.02 L971.51,732.76 L972.70,732.50 L973.96,732.23 L975.27,731.96 L976.60,731.70 L977.92,731.43 L979.20,731.17 L980.43,730.90 L981.58,730.64 L982.64,730.38 L983.60,730.11 L984.46,729.85 L985.22,729.58 L985.88,729.31 L986.43,729.05 L986.90,728.78 L987.29,728.52 L987.61,728.25 L987.86,727.99 L988.06,727.73 L988.22,727.46 L988.34,727.19 L988.44,726.93 L988.51,726.66 L988.56,726.40Z" fill="#d9d9d9" stroke="#7c7c7c" stroke-width="1.4" stroke-linejoin="round"/><path d="M988.56,728.60V741.00M979.36,728.60H997.76M979.36,741.00H997.76" stroke="#000" stroke-width="1.7" fill="none"/><circle cx="988.56" cy="734.80" r="2.6" fill="#000"/><path d="M583.70,655.90H592.50M583.70,755.58H592.50M583.70,855.25H592.50M583.70,954.92H592.50M619.14,1053.10V1044.20M693.03,1053.10V1044.20M766.91,1053.10V1044.20M840.79,1053.10V1044.20M914.68,1053.10V1044.20M988.56,1053.10V1044.20" stroke="#151515" stroke-width="3" fill="none"/><rect x="580.70" y="654.40" width="3" height="401.70" fill="#151515"/><rect x="580.70" y="1053.10" width="446.30" height="3" fill="#151515"/><text x="0" y="0" font-size="28.0" text-anchor="end" transform="translate(631.74,1086.50) rotate(-30) scale(1,1.045)">ELM</text><text x="0" y="0" font-size="28.0" text-anchor="end" transform="translate(705.63,1086.50) rotate(-30) scale(1,1.045)">CTELM</text><text x="0" y="0" font-size="28.0" text-anchor="end" transform="translate(779.51,1086.50) rotate(-30) scale(1,1.045)">CCTELM</text><text x="0" y="0" font-size="28.0" text-anchor="end" transform="translate(853.39,1086.50) rotate(-30) scale(1,1.045)">Inf Mem</text><text x="0" y="0" font-size="28.0" text-anchor="end" transform="translate(927.28,1086.50) rotate(-30) scale(1,1.045)">No SacAmp Penalty</text><text x="0" y="0" font-size="28.0" text-anchor="end" transform="translate(1001.16,1086.50) rotate(-30) scale(1,1.045)">No SLP Error</text><text transform="translate(803.85,647.25) scale(1,1.02)" font-size="31.0" text-anchor="middle">Saccade amplitude (initial 20)</text><text x="556.00" y="648.20" font-size="38.0" font-weight="bold">e</text></g>
<g><path d="M1088.64,838.90 L1088.71,839.30 L1088.79,839.71 L1088.91,840.12 L1089.05,840.52 L1089.24,840.92 L1089.47,841.33 L1089.76,841.74 L1090.12,842.14 L1090.55,842.54 L1091.06,842.95 L1091.66,843.36 L1092.36,843.76 L1093.15,844.16 L1094.05,844.57 L1095.04,844.98 L1096.12,845.38 L1097.28,845.78 L1098.50,846.19 L1099.77,846.60 L1101.06,847.00 L1102.36,847.40 L1103.63,847.81 L1104.84,848.22 L1105.98,848.62 L1107.02,849.02 L1107.93,849.43 L1108.69,849.84 L1109.31,850.24 L1109.76,850.64 L1110.05,851.05 L1110.19,851.46 L1110.20,851.86 L1110.07,852.26 L1109.78,852.67 L1109.31,853.08 L1108.66,853.48 L1107.83,853.88 L1106.85,854.29 L1105.74,854.70 L1104.52,855.10 L1103.21,855.50 L1101.86,855.91 L1100.48,856.32 L1099.12,856.72 L1097.80,857.12 L1096.54,857.53 L1095.36,857.94 L1094.28,858.34 L1093.30,858.75 L1092.44,859.15 L1091.68,859.56 L1091.03,859.96 L1090.48,860.37 L1090.02,860.77 L1089.64,861.18 L1089.34,861.58 L1089.09,861.99 L1088.90,862.39 L1088.76,862.80 L1088.64,863.20 L1088.64,863.20 L1088.53,862.80 L1088.38,862.39 L1088.19,861.99 L1087.95,861.58 L1087.64,861.18 L1087.27,860.77 L1086.81,860.37 L1086.26,859.96 L1085.60,859.56 L1084.85,859.15 L1083.98,858.75 L1083.00,858.34 L1081.92,857.94 L1080.74,857.53 L1079.48,857.12 L1078.16,856.72 L1076.80,856.32 L1075.43,855.91 L1074.07,855.50 L1072.77,855.10 L1071.54,854.70 L1070.43,854.29 L1069.45,853.88 L1068.63,853.48 L1067.98,853.08 L1067.51,852.67 L1067.21,852.26 L1067.09,851.86 L1067.10,851.46 L1067.24,851.05 L1067.53,850.64 L1067.98,850.24 L1068.59,849.84 L1069.36,849.43 L1070.27,849.02 L1071.30,848.62 L1072.44,848.22 L1073.66,847.81 L1074.92,847.40 L1076.22,847.00 L1077.51,846.60 L1078.78,846.19 L1080.01,845.78 L1081.17,845.38 L1082.25,844.98 L1083.24,844.57 L1084.13,844.16 L1084.93,843.76 L1085.62,843.36 L1086.23,842.95 L1086.74,842.54 L1087.17,842.14 L1087.52,841.74 L1087.81,841.33 L1088.05,840.92 L1088.23,840.52 L1088.38,840.12 L1088.49,839.71 L1088.58,839.30 L1088.64,838.90Z" fill="#d9d9d9" stroke="#7c7c7c" stroke-width="1.4" stroke-linejoin="round"/><path d="M1088.64,842.00V860.90M1079.44,842.00H1097.84M1079.44,860.90H1097.84" stroke="#000" stroke-width="1.7" fill="none"/><circle cx="1088.64" cy="851.70" r="2.6" fill="#000"/><path d="M1162.53,841.70 L1162.56,842.17 L1162.61,842.63 L1162.67,843.10 L1162.76,843.57 L1162.89,844.03 L1163.06,844.50 L1163.28,844.97 L1163.57,845.43 L1163.94,845.90 L1164.40,846.37 L1164.97,846.83 L1165.65,847.30 L1166.46,847.77 L1167.40,848.23 L1168.46,848.70 L1169.65,849.17 L1170.94,849.63 L1172.32,850.10 L1173.77,850.57 L1175.24,851.03 L1176.71,851.50 L1178.13,851.97 L1179.47,852.43 L1180.69,852.90 L1181.75,853.37 L1182.62,853.83 L1183.30,854.30 L1183.76,854.77 L1184.02,855.23 L1184.09,855.70 L1184.02,856.17 L1183.79,856.63 L1183.37,857.10 L1182.76,857.57 L1181.97,858.03 L1181.00,858.50 L1179.89,858.97 L1178.65,859.43 L1177.32,859.90 L1175.94,860.37 L1174.53,860.83 L1173.14,861.30 L1171.78,861.77 L1170.49,862.23 L1169.29,862.70 L1168.19,863.17 L1167.20,863.63 L1166.32,864.10 L1165.56,864.57 L1164.92,865.03 L1164.38,865.50 L1163.93,865.97 L1163.57,866.43 L1163.28,866.90 L1163.06,867.37 L1162.88,867.83 L1162.75,868.30 L1162.65,868.77 L1162.58,869.23 L1162.53,869.70 L1162.53,869.70 L1162.47,869.23 L1162.40,868.77 L1162.30,868.30 L1162.17,867.83 L1161.99,867.37 L1161.77,866.90 L1161.48,866.43 L1161.12,865.97 L1160.67,865.50 L1160.13,865.03 L1159.49,864.57 L1158.73,864.10 L1157.85,863.63 L1156.86,863.17 L1155.76,862.70 L1154.56,862.23 L1153.27,861.77 L1151.91,861.30 L1150.52,860.83 L1149.11,860.37 L1147.73,859.90 L1146.40,859.43 L1145.16,858.97 L1144.05,858.50 L1143.08,858.03 L1142.29,857.57 L1141.68,857.10 L1141.26,856.63 L1141.03,856.17 L1140.96,855.70 L1141.03,855.23 L1141.29,854.77 L1141.75,854.30 L1142.43,853.83 L1143.30,853.37 L1144.36,852.90 L1145.58,852.43 L1146.92,851.97 L1148.34,851.50 L1149.81,851.03 L1151.28,850.57 L1152.73,850.10 L1154.11,849.63 L1155.40,849.17 L1156.59,848.70 L1157.65,848.23 L1158.59,847.77 L1159.40,847.30 L1160.08,846.83 L1160.65,846.37 L1161.11,845.90 L1161.48,845.43 L1161.77,844.97 L1161.99,844.50 L1162.16,844.03 L1162.29,843.57 L1162.38,843.10 L1162.44,842.63 L1162.49,842.17 L1162.53,841.70Z" fill="#d9d9d9" stroke="#7c7c7c" stroke-width="1.4" stroke-linejoin="round"/><path d="M1162.53,845.90V866.00M1153.33,845.90H1171.73M1153.33,866.00H1171.73" stroke="#000" stroke-width="1.7" fill="none"/><circle cx="1162.53" cy="856.40" r="2.6" fill="#000"/><path d="M1236.41,687.40 L1236.43,687.57 L1236.46,687.73 L1236.51,687.90 L1236.57,688.07 L1236.67,688.23 L1236.81,688.40 L1237.00,688.57 L1237.25,688.73 L1237.60,688.90 L1238.04,689.07 L1238.59,689.23 L1239.29,689.40 L1240.12,689.57 L1241.11,689.73 L1242.26,689.90 L1243.55,690.07 L1244.96,690.23 L1246.49,690.40 L1248.08,690.57 L1249.69,690.73 L1251.28,690.90 L1252.79,691.07 L1254.17,691.23 L1255.39,691.40 L1256.38,691.57 L1257.15,691.73 L1257.66,691.90 L1257.92,692.07 L1257.97,692.23 L1257.86,692.40 L1257.54,692.57 L1257.01,692.73 L1256.25,692.90 L1255.28,693.07 L1254.13,693.23 L1252.83,693.40 L1251.41,693.57 L1249.92,693.73 L1248.40,693.90 L1246.90,694.07 L1245.44,694.23 L1244.07,694.40 L1242.80,694.57 L1241.66,694.73 L1240.66,694.90 L1239.78,695.07 L1239.05,695.23 L1238.44,695.40 L1237.94,695.57 L1237.54,695.73 L1237.23,695.90 L1237.00,696.07 L1236.82,696.23 L1236.69,696.40 L1236.59,696.57 L1236.52,696.73 L1236.48,696.90 L1236.44,697.07 L1236.42,697.23 L1236.41,697.40 L1236.41,697.40 L1236.39,697.23 L1236.37,697.07 L1236.34,696.90 L1236.29,696.73 L1236.23,696.57 L1236.13,696.40 L1236.00,696.23 L1235.82,696.07 L1235.58,695.90 L1235.27,695.73 L1234.88,695.57 L1234.38,695.40 L1233.77,695.23 L1233.03,695.07 L1232.16,694.90 L1231.15,694.73 L1230.01,694.57 L1228.75,694.40 L1227.38,694.23 L1225.92,694.07 L1224.42,693.90 L1222.90,693.73 L1221.41,693.57 L1219.99,693.40 L1218.69,693.23 L1217.54,693.07 L1216.57,692.90 L1215.81,692.73 L1215.27,692.57 L1214.96,692.40 L1214.85,692.23 L1214.90,692.07 L1215.16,691.90 L1215.67,691.73 L1216.43,691.57 L1217.43,691.40 L1218.64,691.23 L1220.03,691.07 L1221.54,690.90 L1223.13,690.73 L1224.74,690.57 L1226.33,690.40 L1227.85,690.23 L1229.27,690.07 L1230.56,689.90 L1231.70,689.73 L1232.69,689.57 L1233.53,689.40 L1234.22,689.23 L1234.78,689.07 L1235.22,688.90 L1235.56,688.73 L1235.82,688.57 L1236.01,688.40 L1236.15,688.23 L1236.24,688.07 L1236.31,687.90 L1236.36,687.73 L1236.39,687.57 L1236.41,687.40Z" fill="#d9d9d9" stroke="#7c7c7c" stroke-width="1.4" stroke-linejoin="round"/><path d="M1236.41,689.00V695.60M1227.21,689.00H1245.61M1227.21,695.60H1245.61" stroke="#000" stroke-width="1.7" fill="none"/><circle cx="1236.41" cy="692.20" r="2.6" fill="#000"/><path d="M1310.29,795.20 L1310.33,795.59 L1310.39,795.98 L1310.47,796.37 L1310.58,796.75 L1310.73,797.14 L1310.92,797.53 L1311.18,797.92 L1311.50,798.31 L1311.91,798.70 L1312.41,799.08 L1313.02,799.47 L1313.75,799.86 L1314.60,800.25 L1315.57,800.64 L1316.67,801.03 L1317.87,801.41 L1319.18,801.80 L1320.56,802.19 L1322.00,802.58 L1323.45,802.97 L1324.88,803.36 L1326.26,803.74 L1327.55,804.13 L1328.71,804.52 L1329.71,804.91 L1330.53,805.30 L1331.16,805.69 L1331.58,806.07 L1331.80,806.46 L1331.86,806.85 L1331.78,807.24 L1331.55,807.63 L1331.15,808.01 L1330.59,808.40 L1329.86,808.79 L1328.98,809.18 L1327.96,809.57 L1326.83,809.96 L1325.60,810.35 L1324.32,810.73 L1322.99,811.12 L1321.67,811.51 L1320.36,811.90 L1319.10,812.29 L1317.90,812.67 L1316.78,813.06 L1315.76,813.45 L1314.83,813.84 L1314.01,814.23 L1313.29,814.62 L1312.68,815.00 L1312.15,815.39 L1311.71,815.78 L1311.35,816.17 L1311.06,816.56 L1310.82,816.95 L1310.64,817.34 L1310.49,817.72 L1310.38,818.11 L1310.29,818.50 L1310.29,818.50 L1310.21,818.11 L1310.09,817.72 L1309.95,817.34 L1309.76,816.95 L1309.53,816.56 L1309.23,816.17 L1308.87,815.78 L1308.43,815.39 L1307.91,815.00 L1307.29,814.62 L1306.57,814.23 L1305.75,813.84 L1304.82,813.45 L1303.80,813.06 L1302.68,812.67 L1301.48,812.29 L1300.22,811.90 L1298.92,811.51 L1297.59,811.12 L1296.27,810.73 L1294.98,810.35 L1293.76,809.96 L1292.62,809.57 L1291.60,809.18 L1290.72,808.79 L1289.99,808.40 L1289.43,808.01 L1289.04,807.63 L1288.81,807.24 L1288.73,806.85 L1288.78,806.46 L1289.00,806.07 L1289.42,805.69 L1290.05,805.30 L1290.87,804.91 L1291.87,804.52 L1293.04,804.13 L1294.32,803.74 L1295.70,803.36 L1297.14,802.97 L1298.59,802.58 L1300.02,802.19 L1301.40,801.80 L1302.71,801.41 L1303.92,801.03 L1305.01,800.64 L1305.99,800.25 L1306.83,799.86 L1307.56,799.47 L1308.17,799.08 L1308.67,798.70 L1309.08,798.31 L1309.41,797.92 L1309.66,797.53 L1309.85,797.14 L1310.00,796.75 L1310.11,796.37 L1310.19,795.98 L1310.25,795.59 L1310.29,795.20Z" fill="#d9d9d9" stroke="#7c7c7c" stroke-width="1.4" stroke-linejoin="round"/><path d="M1310.29,798.50V815.90M1301.09,798.50H1319.49M1301.09,815.90H1319.49" stroke="#000" stroke-width="1.7" fill="none"/><circle cx="1310.29" cy="807.00" r="2.6" fill="#000"/><path d="M1384.18,711.80 L1384.20,712.01 L1384.24,712.22 L1384.30,712.43 L1384.38,712.65 L1384.50,712.86 L1384.67,713.07 L1384.90,713.28 L1385.21,713.49 L1385.62,713.70 L1386.14,713.92 L1386.79,714.13 L1387.59,714.34 L1388.55,714.55 L1389.66,714.76 L1390.93,714.97 L1392.34,715.19 L1393.86,715.40 L1395.47,715.61 L1397.10,715.82 L1398.73,716.03 L1400.28,716.25 L1401.72,716.46 L1402.98,716.67 L1404.03,716.88 L1404.83,717.09 L1405.38,717.30 L1405.67,717.51 L1405.74,717.73 L1405.64,717.94 L1405.36,718.15 L1404.86,718.36 L1404.14,718.57 L1403.23,718.78 L1402.13,719.00 L1400.87,719.21 L1399.50,719.42 L1398.05,719.63 L1396.57,719.84 L1395.08,720.05 L1393.64,720.27 L1392.26,720.48 L1390.99,720.69 L1389.82,720.90 L1388.78,721.11 L1387.88,721.33 L1387.10,721.54 L1386.45,721.75 L1385.92,721.96 L1385.49,722.17 L1385.14,722.38 L1384.88,722.60 L1384.67,722.81 L1384.52,723.02 L1384.41,723.23 L1384.33,723.44 L1384.27,723.65 L1384.23,723.87 L1384.21,724.08 L1384.19,724.29 L1384.18,724.50 L1384.18,724.50 L1384.16,724.29 L1384.14,724.08 L1384.12,723.87 L1384.08,723.65 L1384.02,723.44 L1383.94,723.23 L1383.83,723.02 L1383.68,722.81 L1383.47,722.60 L1383.21,722.38 L1382.86,722.17 L1382.43,721.96 L1381.90,721.75 L1381.25,721.54 L1380.47,721.33 L1379.57,721.11 L1378.53,720.90 L1377.36,720.69 L1376.09,720.48 L1374.71,720.27 L1373.27,720.05 L1371.78,719.84 L1370.30,719.63 L1368.85,719.42 L1367.48,719.21 L1366.22,719.00 L1365.12,718.78 L1364.21,718.57 L1363.49,718.36 L1362.99,718.15 L1362.71,717.94 L1362.61,717.73 L1362.68,717.51 L1362.97,717.30 L1363.52,717.09 L1364.32,716.88 L1365.37,716.67 L1366.63,716.46 L1368.07,716.25 L1369.62,716.03 L1371.25,715.82 L1372.88,715.61 L1374.49,715.40 L1376.01,715.19 L1377.42,714.97 L1378.69,714.76 L1379.80,714.55 L1380.76,714.34 L1381.56,714.13 L1382.21,713.92 L1382.73,713.70 L1383.14,713.49 L1383.45,713.28 L1383.68,713.07 L1383.85,712.86 L1383.97,712.65 L1384.05,712.43 L1384.11,712.22 L1384.15,712.01 L1384.18,711.80Z" fill="#d9d9d9" stroke="#7c7c7c" stroke-width="1.4" stroke-linejoin="round"/><path d="M1384.18,713.70V722.10M1374.98,713.70H1393.38M1374.98,722.10H1393.38" stroke="#000" stroke-width="1.7" fill="none"/><circle cx="1384.18" cy="717.70" r="2.6" fill="#000"/><path d="M1458.06,706.70 L1458.26,706.90 L1458.51,707.09 L1458.82,707.29 L1459.19,707.48 L1459.64,707.68 L1460.17,707.87 L1460.79,708.07 L1461.50,708.26 L1462.31,708.46 L1463.21,708.65 L1464.21,708.85 L1465.31,709.04 L1466.47,709.24 L1467.70,709.43 L1468.98,709.62 L1470.28,709.82 L1471.59,710.01 L1472.86,710.21 L1474.09,710.40 L1475.24,710.60 L1476.29,710.80 L1477.21,710.99 L1478.00,711.19 L1478.63,711.38 L1479.11,711.58 L1479.42,711.77 L1479.59,711.97 L1479.62,712.16 L1479.52,712.36 L1479.28,712.55 L1478.89,712.75 L1478.33,712.94 L1477.62,713.13 L1476.76,713.33 L1475.77,713.52 L1474.68,713.72 L1473.49,713.91 L1472.25,714.11 L1470.97,714.30 L1469.68,714.50 L1468.41,714.70 L1467.17,714.89 L1465.99,715.09 L1464.89,715.28 L1463.87,715.48 L1462.94,715.67 L1462.11,715.87 L1461.38,716.06 L1460.74,716.25 L1460.19,716.45 L1459.73,716.64 L1459.35,716.84 L1459.03,717.03 L1458.78,717.23 L1458.57,717.42 L1458.41,717.62 L1458.29,717.81 L1458.19,718.01 L1458.11,718.20 L1458.06,718.40 L1458.06,718.40 L1458.00,718.20 L1457.93,718.01 L1457.83,717.81 L1457.70,717.62 L1457.54,717.42 L1457.34,717.23 L1457.08,717.03 L1456.77,716.84 L1456.38,716.64 L1455.92,716.45 L1455.38,716.25 L1454.74,716.06 L1454.01,715.87 L1453.18,715.67 L1452.25,715.48 L1451.23,715.28 L1450.12,715.09 L1448.94,714.89 L1447.71,714.70 L1446.44,714.50 L1445.15,714.30 L1443.87,714.11 L1442.62,713.91 L1441.44,713.72 L1440.34,713.52 L1439.36,713.33 L1438.50,713.13 L1437.79,712.94 L1437.23,712.75 L1436.83,712.55 L1436.59,712.36 L1436.50,712.16 L1436.53,711.97 L1436.70,711.77 L1437.01,711.58 L1437.48,711.38 L1438.12,711.19 L1438.90,710.99 L1439.83,710.80 L1440.88,710.60 L1442.03,710.40 L1443.25,710.21 L1444.53,710.01 L1445.83,709.82 L1447.13,709.62 L1448.41,709.43 L1449.64,709.24 L1450.81,709.04 L1451.90,708.85 L1452.90,708.65 L1453.81,708.46 L1454.62,708.26 L1455.33,708.07 L1455.95,707.87 L1456.48,707.68 L1456.92,707.48 L1457.30,707.29 L1457.60,707.09 L1457.86,706.90 L1458.06,706.70Z" fill="#d9d9d9" stroke="#7c7c7c" stroke-width="1.4" stroke-linejoin="round"/><path d="M1458.06,707.40V716.80M1448.86,707.40H1467.26M1448.86,716.80H1467.26" stroke="#000" stroke-width="1.7" fill="none"/><circle cx="1458.06" cy="712.10" r="2.6" fill="#000"/><path d="M1053.20,655.90H1062.00M1053.20,755.58H1062.00M1053.20,855.25H1062.00M1053.20,954.92H1062.00M1088.64,1053.10V1044.20M1162.53,1053.10V1044.20M1236.41,1053.10V1044.20M1310.29,1053.10V1044.20M1384.18,1053.10V1044.20M1458.06,1053.10V1044.20" stroke="#151515" stroke-width="3" fill="none"/><rect x="1050.20" y="654.40" width="3" height="401.70" fill="#151515"/><rect x="1050.20" y="1053.10" width="446.30" height="3" fill="#151515"/><text x="0" y="0" font-size="28.0" text-anchor="end" transform="translate(1101.24,1086.50) rotate(-30) scale(1,1.045)">ELM</text><text x="0" y="0" font-size="28.0" text-anchor="end" transform="translate(1175.12,1086.50) rotate(-30) scale(1,1.045)">CTELM</text><text x="0" y="0" font-size="28.0" text-anchor="end" transform="translate(1249.01,1086.50) rotate(-30) scale(1,1.045)">CCTELM</text><text x="0" y="0" font-size="28.0" text-anchor="end" transform="translate(1322.89,1086.50) rotate(-30) scale(1,1.045)">Inf Mem</text><text x="0" y="0" font-size="28.0" text-anchor="end" transform="translate(1396.78,1086.50) rotate(-30) scale(1,1.045)">No SacAmp Penalty</text><text x="0" y="0" font-size="28.0" text-anchor="end" transform="translate(1470.66,1086.50) rotate(-30) scale(1,1.045)">No SLP Error</text><text transform="translate(1273.35,647.25) scale(1,1.02)" font-size="31.0" text-anchor="middle">Fixation distance (initial 20)</text><text x="1025.50" y="648.20" font-size="38.0" font-weight="bold">f</text></g>
<text transform="translate(23.3,293.60) rotate(-90)" font-size="30.8">B<tspan font-size="24.5" dx="0.8" dy="14.3">c</tspan><tspan dx="0.9" dy="-14.3"> value</tspan></text>
<text transform="translate(23.3,957.00) rotate(-90)" font-size="30.8">Mean B<tspan font-size="24.5" dx="0.8" dy="14.3">c</tspan><tspan dx="0.9" dy="-14.3"> value</tspan></text>
</svg></body></html>
